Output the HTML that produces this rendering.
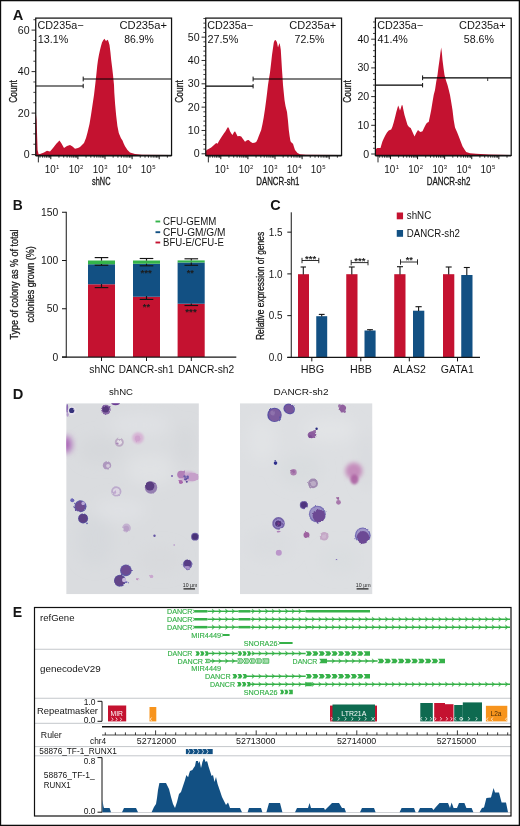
<!DOCTYPE html>
<html lang="en">
<head>
<meta charset="utf-8">
<title>Figure</title>
<style>
html,body{margin:0;padding:0;background:#fff;}
body{width:520px;height:826px;overflow:hidden;}
svg{display:block;font-family:'Liberation Sans', sans-serif;}
</style>
</head>
<body>
<svg width="520" height="826" viewBox="0 0 520 826" font-family='"Liberation Sans", sans-serif' fill="#151515">
<defs>
<filter id="b03" x="-5%" y="-5%" width="110%" height="110%"><feTurbulence type="fractalNoise" baseFrequency="0.22" numOctaves="2" seed="7" result="t"/><feDisplacementMap in="SourceGraphic" in2="t" scale="2.4" xChannelSelector="R" yChannelSelector="G" result="d"/><feGaussianBlur in="d" stdDeviation="0.5"/></filter>
<filter id="b07" x="-5%" y="-5%" width="110%" height="110%"><feTurbulence type="fractalNoise" baseFrequency="0.3" numOctaves="2" seed="11" result="t"/><feDisplacementMap in="SourceGraphic" in2="t" scale="2.6" xChannelSelector="R" yChannelSelector="G" result="d"/><feGaussianBlur in="d" stdDeviation="0.65"/></filter>
<filter id="b2" x="-50%" y="-50%" width="200%" height="200%"><feGaussianBlur stdDeviation="2.2"/></filter>
<filter id="b1" x="-30%" y="-30%" width="160%" height="160%"><feGaussianBlur stdDeviation="1"/></filter>
<filter id="b3" x="-50%" y="-50%" width="200%" height="200%"><feGaussianBlur stdDeviation="3"/></filter>
<filter id="b8" x="-50%" y="-50%" width="200%" height="200%"><feGaussianBlur stdDeviation="7"/></filter>
<clipPath id="clipD1"><rect x="66.2" y="403.2" width="132.7" height="191.1"/></clipPath>
<clipPath id="clipD2"><rect x="239.9" y="403.2" width="132.6" height="191.1"/></clipPath>
</defs>
<rect x="0" y="0" width="520" height="826" fill="#ffffff"/>
<g id="panelA">
<text x="12.80" y="20.00" font-size="14.4" font-weight="bold" textLength="10.60" lengthAdjust="spacingAndGlyphs">A</text>
<polygon points="35.75,155.40 35.75,112.00 36.60,120.00 37.60,150.00 38.60,154.30 40.00,154.00 44.00,152.50 47.00,150.80 50.00,151.50 53.00,148.00 56.50,143.50 59.50,140.50 61.50,143.50 64.00,148.00 67.00,146.00 70.00,145.00 72.50,146.50 75.00,148.70 78.00,148.00 80.00,147.00 84.00,143.00 86.00,138.00 87.50,132.50 89.50,124.00 91.00,115.00 92.50,105.00 94.00,95.00 95.30,84.00 96.30,75.00 97.20,66.00 98.00,60.00 99.00,54.50 100.00,50.00 101.00,46.00 102.00,42.50 103.20,40.20 104.50,38.70 105.40,40.30 106.20,41.20 107.00,39.80 108.00,40.20 108.80,42.50 109.50,45.00 110.40,52.00 111.20,60.00 112.20,68.00 113.00,75.00 114.00,85.00 114.30,92.50 115.10,104.00 116.10,115.00 117.40,126.00 118.80,133.00 119.60,135.00 121.00,138.30 122.50,140.60 123.70,143.50 125.00,146.20 127.50,150.00 130.00,152.50 135.00,154.00 142.00,154.70 171.50,155.00 171.50,155.40" fill="#C41230"/>
<line x1="35.75" y1="86.00" x2="83.20" y2="86.00" stroke="#000" stroke-width="1.2"/>
<line x1="83.20" y1="83.80" x2="83.20" y2="88.20" stroke="#111" stroke-width="1.0"/>
<line x1="83.20" y1="79.00" x2="171.55" y2="79.00" stroke="#000" stroke-width="1.2"/>
<line x1="83.20" y1="76.60" x2="83.20" y2="81.40" stroke="#111" stroke-width="1.0"/>
<rect x="35.75" y="18.10" width="135.80" height="137.30" fill="none" stroke="#111" stroke-width="1.25"/>
<line x1="31.55" y1="154.60" x2="35.75" y2="154.60" stroke="#151515" stroke-width="0.9"/>
<line x1="33.35" y1="144.22" x2="35.75" y2="144.22" stroke="#151515" stroke-width="0.8"/>
<line x1="33.35" y1="133.85" x2="35.75" y2="133.85" stroke="#151515" stroke-width="0.8"/>
<line x1="33.35" y1="123.47" x2="35.75" y2="123.47" stroke="#151515" stroke-width="0.8"/>
<line x1="31.55" y1="113.10" x2="35.75" y2="113.10" stroke="#151515" stroke-width="0.9"/>
<line x1="33.35" y1="102.72" x2="35.75" y2="102.72" stroke="#151515" stroke-width="0.8"/>
<line x1="33.35" y1="92.35" x2="35.75" y2="92.35" stroke="#151515" stroke-width="0.8"/>
<line x1="33.35" y1="81.97" x2="35.75" y2="81.97" stroke="#151515" stroke-width="0.8"/>
<line x1="31.55" y1="71.60" x2="35.75" y2="71.60" stroke="#151515" stroke-width="0.9"/>
<line x1="33.35" y1="61.22" x2="35.75" y2="61.22" stroke="#151515" stroke-width="0.8"/>
<line x1="33.35" y1="50.85" x2="35.75" y2="50.85" stroke="#151515" stroke-width="0.8"/>
<line x1="33.35" y1="40.47" x2="35.75" y2="40.47" stroke="#151515" stroke-width="0.8"/>
<line x1="31.55" y1="30.10" x2="35.75" y2="30.10" stroke="#151515" stroke-width="0.9"/>
<line x1="33.35" y1="19.72" x2="35.75" y2="19.72" stroke="#151515" stroke-width="0.8"/>
<text x="29.55" y="158.10" font-size="10.0" text-anchor="end" textLength="5.90" lengthAdjust="spacingAndGlyphs">0</text>
<text x="29.55" y="116.60" font-size="10.0" text-anchor="end" textLength="11.80" lengthAdjust="spacingAndGlyphs">20</text>
<text x="29.55" y="75.10" font-size="10.0" text-anchor="end" textLength="11.80" lengthAdjust="spacingAndGlyphs">40</text>
<text x="29.55" y="33.60" font-size="10.0" text-anchor="end" textLength="11.80" lengthAdjust="spacingAndGlyphs">60</text>
<line x1="38.35" y1="155.40" x2="38.35" y2="162.40" stroke="#111" stroke-width="0.9"/>
<line x1="35.75" y1="155.70" x2="171.55" y2="155.70" stroke="#111" stroke-width="1.5"/>
<line x1="40.02" y1="155.40" x2="40.02" y2="157.70" stroke="#111" stroke-width="0.85"/>
<line x1="42.64" y1="155.40" x2="42.64" y2="157.70" stroke="#111" stroke-width="0.85"/>
<line x1="44.79" y1="155.40" x2="44.79" y2="157.70" stroke="#111" stroke-width="0.85"/>
<line x1="46.60" y1="155.40" x2="46.60" y2="157.70" stroke="#111" stroke-width="0.85"/>
<line x1="48.17" y1="155.40" x2="48.17" y2="157.70" stroke="#111" stroke-width="0.85"/>
<line x1="49.56" y1="155.40" x2="49.56" y2="157.70" stroke="#111" stroke-width="0.85"/>
<line x1="50.80" y1="155.40" x2="50.80" y2="159.20" stroke="#111" stroke-width="1.0"/>
<line x1="58.96" y1="155.40" x2="58.96" y2="157.70" stroke="#111" stroke-width="0.85"/>
<line x1="63.73" y1="155.40" x2="63.73" y2="157.70" stroke="#111" stroke-width="0.85"/>
<line x1="67.12" y1="155.40" x2="67.12" y2="157.70" stroke="#111" stroke-width="0.85"/>
<line x1="69.74" y1="155.40" x2="69.74" y2="157.70" stroke="#111" stroke-width="0.85"/>
<line x1="71.89" y1="155.40" x2="71.89" y2="157.70" stroke="#111" stroke-width="0.85"/>
<line x1="73.70" y1="155.40" x2="73.70" y2="157.70" stroke="#111" stroke-width="0.85"/>
<line x1="75.27" y1="155.40" x2="75.27" y2="157.70" stroke="#111" stroke-width="0.85"/>
<line x1="76.66" y1="155.40" x2="76.66" y2="157.70" stroke="#111" stroke-width="0.85"/>
<line x1="77.90" y1="155.40" x2="77.90" y2="159.20" stroke="#111" stroke-width="1.0"/>
<line x1="86.06" y1="155.40" x2="86.06" y2="157.70" stroke="#111" stroke-width="0.85"/>
<line x1="90.83" y1="155.40" x2="90.83" y2="157.70" stroke="#111" stroke-width="0.85"/>
<line x1="94.22" y1="155.40" x2="94.22" y2="157.70" stroke="#111" stroke-width="0.85"/>
<line x1="96.84" y1="155.40" x2="96.84" y2="157.70" stroke="#111" stroke-width="0.85"/>
<line x1="98.99" y1="155.40" x2="98.99" y2="157.70" stroke="#111" stroke-width="0.85"/>
<line x1="100.80" y1="155.40" x2="100.80" y2="157.70" stroke="#111" stroke-width="0.85"/>
<line x1="102.37" y1="155.40" x2="102.37" y2="157.70" stroke="#111" stroke-width="0.85"/>
<line x1="103.76" y1="155.40" x2="103.76" y2="157.70" stroke="#111" stroke-width="0.85"/>
<line x1="105.00" y1="155.40" x2="105.00" y2="159.20" stroke="#111" stroke-width="1.0"/>
<line x1="113.16" y1="155.40" x2="113.16" y2="157.70" stroke="#111" stroke-width="0.85"/>
<line x1="117.93" y1="155.40" x2="117.93" y2="157.70" stroke="#111" stroke-width="0.85"/>
<line x1="121.32" y1="155.40" x2="121.32" y2="157.70" stroke="#111" stroke-width="0.85"/>
<line x1="123.94" y1="155.40" x2="123.94" y2="157.70" stroke="#111" stroke-width="0.85"/>
<line x1="126.09" y1="155.40" x2="126.09" y2="157.70" stroke="#111" stroke-width="0.85"/>
<line x1="127.90" y1="155.40" x2="127.90" y2="157.70" stroke="#111" stroke-width="0.85"/>
<line x1="129.47" y1="155.40" x2="129.47" y2="157.70" stroke="#111" stroke-width="0.85"/>
<line x1="130.86" y1="155.40" x2="130.86" y2="157.70" stroke="#111" stroke-width="0.85"/>
<line x1="132.10" y1="155.40" x2="132.10" y2="159.20" stroke="#111" stroke-width="1.0"/>
<line x1="140.26" y1="155.40" x2="140.26" y2="157.70" stroke="#111" stroke-width="0.85"/>
<line x1="145.03" y1="155.40" x2="145.03" y2="157.70" stroke="#111" stroke-width="0.85"/>
<line x1="148.42" y1="155.40" x2="148.42" y2="157.70" stroke="#111" stroke-width="0.85"/>
<line x1="151.04" y1="155.40" x2="151.04" y2="157.70" stroke="#111" stroke-width="0.85"/>
<line x1="153.19" y1="155.40" x2="153.19" y2="157.70" stroke="#111" stroke-width="0.85"/>
<line x1="155.00" y1="155.40" x2="155.00" y2="157.70" stroke="#111" stroke-width="0.85"/>
<line x1="156.57" y1="155.40" x2="156.57" y2="157.70" stroke="#111" stroke-width="0.85"/>
<line x1="157.96" y1="155.40" x2="157.96" y2="157.70" stroke="#111" stroke-width="0.85"/>
<line x1="159.20" y1="155.40" x2="159.20" y2="159.20" stroke="#111" stroke-width="1.0"/>
<line x1="167.36" y1="155.40" x2="167.36" y2="157.70" stroke="#111" stroke-width="0.85"/>
<text x="44.65" y="173.00" font-size="10.0" textLength="11.00" lengthAdjust="spacingAndGlyphs">10</text>
<text x="56.05" y="169.40" font-size="6.0">1</text>
<text x="68.70" y="173.00" font-size="10.0" textLength="11.00" lengthAdjust="spacingAndGlyphs">10</text>
<text x="80.10" y="169.40" font-size="6.0">2</text>
<text x="92.75" y="173.00" font-size="10.0" textLength="11.00" lengthAdjust="spacingAndGlyphs">10</text>
<text x="104.15" y="169.40" font-size="6.0">3</text>
<text x="116.80" y="173.00" font-size="10.0" textLength="11.00" lengthAdjust="spacingAndGlyphs">10</text>
<text x="128.20" y="169.40" font-size="6.0">4</text>
<text x="140.85" y="173.00" font-size="10.0" textLength="11.00" lengthAdjust="spacingAndGlyphs">10</text>
<text x="152.25" y="169.40" font-size="6.0">5</text>
<text x="37.50" y="29.40" font-size="10.3" textLength="46.00" lengthAdjust="spacingAndGlyphs">CD235a−</text>
<text x="37.80" y="43.20" font-size="10.3" textLength="30.60" lengthAdjust="spacingAndGlyphs">13.1%</text>
<text x="119.50" y="29.40" font-size="10.3" textLength="47.50" lengthAdjust="spacingAndGlyphs">CD235a+</text>
<text x="124.25" y="43.20" font-size="10.3" textLength="29.50" lengthAdjust="spacingAndGlyphs">86.9%</text>
<text x="92.00" y="185.40" font-size="11.2" textLength="18.50" lengthAdjust="spacingAndGlyphs" stroke="#1a1a1a" stroke-width="0.3">shNC</text>
<text x="17.30" y="102.80" font-size="10.6" textLength="22.60" lengthAdjust="spacingAndGlyphs" transform="rotate(-90 17.30 102.80)" stroke="#1a1a1a" stroke-width="0.3">Count</text>
<polygon points="205.75,155.40 205.75,152.00 206.50,150.00 208.50,149.00 211.20,147.50 214.00,145.00 216.20,143.00 217.50,143.80 219.00,141.00 221.20,137.50 223.50,134.00 225.50,131.20 227.00,128.50 228.00,127.00 229.00,128.50 230.00,131.20 231.30,133.50 232.50,135.00 233.80,132.50 235.00,131.20 236.20,133.50 237.50,136.20 239.50,136.00 241.20,136.40 243.00,139.00 245.00,141.70 247.00,140.30 248.70,140.00 250.50,141.80 252.50,143.00 254.50,142.80 256.20,142.00 257.50,139.50 258.70,136.20 260.00,133.00 261.20,130.00 262.50,124.00 263.70,117.50 265.00,109.00 266.20,100.00 267.20,92.00 268.00,85.00 269.00,78.50 270.00,72.50 271.00,64.00 272.00,55.00 273.00,48.00 273.80,42.50 274.60,40.60 275.50,40.00 276.30,41.00 277.00,42.50 277.50,45.00 278.00,47.50 278.80,45.00 279.50,43.00 280.20,46.00 280.80,50.00 281.40,60.00 282.00,70.00 282.50,77.00 283.00,85.00 283.80,93.00 284.50,100.00 285.50,106.00 287.00,112.00 288.00,121.00 288.80,130.00 289.60,136.00 290.50,141.20 291.70,142.70 293.00,143.70 294.00,147.00 295.00,150.00 297.50,153.00 300.00,154.30 306.00,154.80 341.00,155.00 341.00,155.40" fill="#C41230"/>
<line x1="205.75" y1="86.20" x2="253.10" y2="86.20" stroke="#000" stroke-width="1.2"/>
<line x1="253.10" y1="84.00" x2="253.10" y2="88.40" stroke="#111" stroke-width="1.0"/>
<line x1="253.10" y1="79.00" x2="341.55" y2="79.00" stroke="#000" stroke-width="1.2"/>
<line x1="253.10" y1="76.60" x2="253.10" y2="81.40" stroke="#111" stroke-width="1.0"/>
<rect x="205.75" y="18.10" width="135.80" height="137.30" fill="none" stroke="#111" stroke-width="1.25"/>
<line x1="201.55" y1="153.80" x2="205.75" y2="153.80" stroke="#151515" stroke-width="0.9"/>
<line x1="203.35" y1="149.13" x2="205.75" y2="149.13" stroke="#151515" stroke-width="0.8"/>
<line x1="203.35" y1="144.47" x2="205.75" y2="144.47" stroke="#151515" stroke-width="0.8"/>
<line x1="203.35" y1="139.80" x2="205.75" y2="139.80" stroke="#151515" stroke-width="0.8"/>
<line x1="203.35" y1="135.14" x2="205.75" y2="135.14" stroke="#151515" stroke-width="0.8"/>
<line x1="201.55" y1="130.47" x2="205.75" y2="130.47" stroke="#151515" stroke-width="0.9"/>
<line x1="203.35" y1="125.80" x2="205.75" y2="125.80" stroke="#151515" stroke-width="0.8"/>
<line x1="203.35" y1="121.14" x2="205.75" y2="121.14" stroke="#151515" stroke-width="0.8"/>
<line x1="203.35" y1="116.47" x2="205.75" y2="116.47" stroke="#151515" stroke-width="0.8"/>
<line x1="203.35" y1="111.81" x2="205.75" y2="111.81" stroke="#151515" stroke-width="0.8"/>
<line x1="201.55" y1="107.14" x2="205.75" y2="107.14" stroke="#151515" stroke-width="0.9"/>
<line x1="203.35" y1="102.47" x2="205.75" y2="102.47" stroke="#151515" stroke-width="0.8"/>
<line x1="203.35" y1="97.81" x2="205.75" y2="97.81" stroke="#151515" stroke-width="0.8"/>
<line x1="203.35" y1="93.14" x2="205.75" y2="93.14" stroke="#151515" stroke-width="0.8"/>
<line x1="203.35" y1="88.48" x2="205.75" y2="88.48" stroke="#151515" stroke-width="0.8"/>
<line x1="201.55" y1="83.81" x2="205.75" y2="83.81" stroke="#151515" stroke-width="0.9"/>
<line x1="203.35" y1="79.14" x2="205.75" y2="79.14" stroke="#151515" stroke-width="0.8"/>
<line x1="203.35" y1="74.48" x2="205.75" y2="74.48" stroke="#151515" stroke-width="0.8"/>
<line x1="203.35" y1="69.81" x2="205.75" y2="69.81" stroke="#151515" stroke-width="0.8"/>
<line x1="203.35" y1="65.15" x2="205.75" y2="65.15" stroke="#151515" stroke-width="0.8"/>
<line x1="201.55" y1="60.48" x2="205.75" y2="60.48" stroke="#151515" stroke-width="0.9"/>
<line x1="203.35" y1="55.81" x2="205.75" y2="55.81" stroke="#151515" stroke-width="0.8"/>
<line x1="203.35" y1="51.15" x2="205.75" y2="51.15" stroke="#151515" stroke-width="0.8"/>
<line x1="203.35" y1="46.48" x2="205.75" y2="46.48" stroke="#151515" stroke-width="0.8"/>
<line x1="203.35" y1="41.82" x2="205.75" y2="41.82" stroke="#151515" stroke-width="0.8"/>
<line x1="201.55" y1="37.15" x2="205.75" y2="37.15" stroke="#151515" stroke-width="0.9"/>
<line x1="203.35" y1="32.48" x2="205.75" y2="32.48" stroke="#151515" stroke-width="0.8"/>
<line x1="203.35" y1="27.82" x2="205.75" y2="27.82" stroke="#151515" stroke-width="0.8"/>
<line x1="203.35" y1="23.15" x2="205.75" y2="23.15" stroke="#151515" stroke-width="0.8"/>
<line x1="203.35" y1="18.49" x2="205.75" y2="18.49" stroke="#151515" stroke-width="0.8"/>
<text x="199.55" y="157.30" font-size="10.0" text-anchor="end" textLength="5.90" lengthAdjust="spacingAndGlyphs">0</text>
<text x="199.55" y="133.97" font-size="10.0" text-anchor="end" textLength="11.80" lengthAdjust="spacingAndGlyphs">10</text>
<text x="199.55" y="110.64" font-size="10.0" text-anchor="end" textLength="11.80" lengthAdjust="spacingAndGlyphs">20</text>
<text x="199.55" y="87.31" font-size="10.0" text-anchor="end" textLength="11.80" lengthAdjust="spacingAndGlyphs">30</text>
<text x="199.55" y="63.98" font-size="10.0" text-anchor="end" textLength="11.80" lengthAdjust="spacingAndGlyphs">40</text>
<text x="199.55" y="40.65" font-size="10.0" text-anchor="end" textLength="11.80" lengthAdjust="spacingAndGlyphs">50</text>
<line x1="208.35" y1="155.40" x2="208.35" y2="162.40" stroke="#111" stroke-width="0.9"/>
<line x1="205.75" y1="155.70" x2="341.55" y2="155.70" stroke="#111" stroke-width="1.5"/>
<line x1="210.02" y1="155.40" x2="210.02" y2="157.70" stroke="#111" stroke-width="0.85"/>
<line x1="212.64" y1="155.40" x2="212.64" y2="157.70" stroke="#111" stroke-width="0.85"/>
<line x1="214.79" y1="155.40" x2="214.79" y2="157.70" stroke="#111" stroke-width="0.85"/>
<line x1="216.60" y1="155.40" x2="216.60" y2="157.70" stroke="#111" stroke-width="0.85"/>
<line x1="218.17" y1="155.40" x2="218.17" y2="157.70" stroke="#111" stroke-width="0.85"/>
<line x1="219.56" y1="155.40" x2="219.56" y2="157.70" stroke="#111" stroke-width="0.85"/>
<line x1="220.80" y1="155.40" x2="220.80" y2="159.20" stroke="#111" stroke-width="1.0"/>
<line x1="228.96" y1="155.40" x2="228.96" y2="157.70" stroke="#111" stroke-width="0.85"/>
<line x1="233.73" y1="155.40" x2="233.73" y2="157.70" stroke="#111" stroke-width="0.85"/>
<line x1="237.12" y1="155.40" x2="237.12" y2="157.70" stroke="#111" stroke-width="0.85"/>
<line x1="239.74" y1="155.40" x2="239.74" y2="157.70" stroke="#111" stroke-width="0.85"/>
<line x1="241.89" y1="155.40" x2="241.89" y2="157.70" stroke="#111" stroke-width="0.85"/>
<line x1="243.70" y1="155.40" x2="243.70" y2="157.70" stroke="#111" stroke-width="0.85"/>
<line x1="245.27" y1="155.40" x2="245.27" y2="157.70" stroke="#111" stroke-width="0.85"/>
<line x1="246.66" y1="155.40" x2="246.66" y2="157.70" stroke="#111" stroke-width="0.85"/>
<line x1="247.90" y1="155.40" x2="247.90" y2="159.20" stroke="#111" stroke-width="1.0"/>
<line x1="256.06" y1="155.40" x2="256.06" y2="157.70" stroke="#111" stroke-width="0.85"/>
<line x1="260.83" y1="155.40" x2="260.83" y2="157.70" stroke="#111" stroke-width="0.85"/>
<line x1="264.22" y1="155.40" x2="264.22" y2="157.70" stroke="#111" stroke-width="0.85"/>
<line x1="266.84" y1="155.40" x2="266.84" y2="157.70" stroke="#111" stroke-width="0.85"/>
<line x1="268.99" y1="155.40" x2="268.99" y2="157.70" stroke="#111" stroke-width="0.85"/>
<line x1="270.80" y1="155.40" x2="270.80" y2="157.70" stroke="#111" stroke-width="0.85"/>
<line x1="272.37" y1="155.40" x2="272.37" y2="157.70" stroke="#111" stroke-width="0.85"/>
<line x1="273.76" y1="155.40" x2="273.76" y2="157.70" stroke="#111" stroke-width="0.85"/>
<line x1="275.00" y1="155.40" x2="275.00" y2="159.20" stroke="#111" stroke-width="1.0"/>
<line x1="283.16" y1="155.40" x2="283.16" y2="157.70" stroke="#111" stroke-width="0.85"/>
<line x1="287.93" y1="155.40" x2="287.93" y2="157.70" stroke="#111" stroke-width="0.85"/>
<line x1="291.32" y1="155.40" x2="291.32" y2="157.70" stroke="#111" stroke-width="0.85"/>
<line x1="293.94" y1="155.40" x2="293.94" y2="157.70" stroke="#111" stroke-width="0.85"/>
<line x1="296.09" y1="155.40" x2="296.09" y2="157.70" stroke="#111" stroke-width="0.85"/>
<line x1="297.90" y1="155.40" x2="297.90" y2="157.70" stroke="#111" stroke-width="0.85"/>
<line x1="299.47" y1="155.40" x2="299.47" y2="157.70" stroke="#111" stroke-width="0.85"/>
<line x1="300.86" y1="155.40" x2="300.86" y2="157.70" stroke="#111" stroke-width="0.85"/>
<line x1="302.10" y1="155.40" x2="302.10" y2="159.20" stroke="#111" stroke-width="1.0"/>
<line x1="310.26" y1="155.40" x2="310.26" y2="157.70" stroke="#111" stroke-width="0.85"/>
<line x1="315.03" y1="155.40" x2="315.03" y2="157.70" stroke="#111" stroke-width="0.85"/>
<line x1="318.42" y1="155.40" x2="318.42" y2="157.70" stroke="#111" stroke-width="0.85"/>
<line x1="321.04" y1="155.40" x2="321.04" y2="157.70" stroke="#111" stroke-width="0.85"/>
<line x1="323.19" y1="155.40" x2="323.19" y2="157.70" stroke="#111" stroke-width="0.85"/>
<line x1="325.00" y1="155.40" x2="325.00" y2="157.70" stroke="#111" stroke-width="0.85"/>
<line x1="326.57" y1="155.40" x2="326.57" y2="157.70" stroke="#111" stroke-width="0.85"/>
<line x1="327.96" y1="155.40" x2="327.96" y2="157.70" stroke="#111" stroke-width="0.85"/>
<line x1="329.20" y1="155.40" x2="329.20" y2="159.20" stroke="#111" stroke-width="1.0"/>
<line x1="337.36" y1="155.40" x2="337.36" y2="157.70" stroke="#111" stroke-width="0.85"/>
<text x="214.65" y="173.00" font-size="10.0" textLength="11.00" lengthAdjust="spacingAndGlyphs">10</text>
<text x="226.05" y="169.40" font-size="6.0">1</text>
<text x="238.70" y="173.00" font-size="10.0" textLength="11.00" lengthAdjust="spacingAndGlyphs">10</text>
<text x="250.10" y="169.40" font-size="6.0">2</text>
<text x="262.75" y="173.00" font-size="10.0" textLength="11.00" lengthAdjust="spacingAndGlyphs">10</text>
<text x="274.15" y="169.40" font-size="6.0">3</text>
<text x="286.80" y="173.00" font-size="10.0" textLength="11.00" lengthAdjust="spacingAndGlyphs">10</text>
<text x="298.20" y="169.40" font-size="6.0">4</text>
<text x="310.85" y="173.00" font-size="10.0" textLength="11.00" lengthAdjust="spacingAndGlyphs">10</text>
<text x="322.25" y="169.40" font-size="6.0">5</text>
<text x="207.20" y="29.40" font-size="10.3" textLength="46.00" lengthAdjust="spacingAndGlyphs">CD235a−</text>
<text x="207.50" y="43.20" font-size="10.3" textLength="30.80" lengthAdjust="spacingAndGlyphs">27.5%</text>
<text x="289.25" y="29.40" font-size="10.3" textLength="47.00" lengthAdjust="spacingAndGlyphs">CD235a+</text>
<text x="294.50" y="43.20" font-size="10.3" textLength="30.00" lengthAdjust="spacingAndGlyphs">72.5%</text>
<text x="256.25" y="185.40" font-size="11.2" textLength="43.25" lengthAdjust="spacingAndGlyphs" stroke="#1a1a1a" stroke-width="0.3">DANCR-sh1</text>
<text x="183.10" y="102.80" font-size="10.6" textLength="22.60" lengthAdjust="spacingAndGlyphs" transform="rotate(-90 183.10 102.80)" stroke="#1a1a1a" stroke-width="0.3">Count</text>
<polygon points="375.40,155.40 375.40,150.00 377.00,148.00 380.50,148.00 381.50,144.50 382.50,141.20 384.00,138.00 385.50,135.00 387.00,132.50 388.70,130.50 391.20,129.50 392.50,126.50 393.70,122.50 395.00,117.50 396.20,112.50 397.30,108.50 398.20,105.50 399.00,107.50 400.00,110.50 400.90,108.00 401.70,105.30 402.50,105.30 403.20,109.00 404.50,115.00 406.00,120.00 407.50,125.00 409.00,127.00 410.70,128.00 412.50,132.00 414.50,136.50 416.20,133.00 418.00,130.00 419.30,131.30 420.50,132.00 422.50,131.20 424.50,127.00 426.20,123.70 427.50,122.50 428.70,122.00 430.00,116.00 431.20,110.00 432.50,102.00 433.70,95.00 435.00,90.00 436.20,82.00 437.50,75.00 438.50,67.00 439.50,60.00 440.40,53.00 441.20,47.50 441.90,53.00 442.50,60.00 443.50,68.00 444.50,75.00 446.00,80.50 447.50,85.00 448.80,90.00 450.00,95.00 451.20,102.00 452.50,110.00 453.70,120.00 455.00,127.50 457.00,132.00 458.70,136.20 460.50,141.00 462.50,146.20 464.50,149.50 466.20,152.00 470.00,153.30 476.00,153.80 489.00,154.60 511.00,155.00 511.00,155.40" fill="#C41230"/>
<line x1="375.40" y1="85.20" x2="422.60" y2="85.20" stroke="#000" stroke-width="1.2"/>
<line x1="422.60" y1="83.00" x2="422.60" y2="87.40" stroke="#111" stroke-width="1.0"/>
<line x1="422.60" y1="77.80" x2="511.20" y2="77.80" stroke="#000" stroke-width="1.2"/>
<line x1="422.60" y1="75.40" x2="422.60" y2="80.20" stroke="#111" stroke-width="1.0"/>
<line x1="487.70" y1="77.80" x2="487.70" y2="81.00" stroke="#222" stroke-width="0.9"/>
<rect x="375.40" y="18.10" width="135.80" height="137.30" fill="none" stroke="#111" stroke-width="1.25"/>
<line x1="371.20" y1="154.00" x2="375.40" y2="154.00" stroke="#151515" stroke-width="0.9"/>
<line x1="373.00" y1="148.26" x2="375.40" y2="148.26" stroke="#151515" stroke-width="0.8"/>
<line x1="373.00" y1="142.52" x2="375.40" y2="142.52" stroke="#151515" stroke-width="0.8"/>
<line x1="373.00" y1="136.78" x2="375.40" y2="136.78" stroke="#151515" stroke-width="0.8"/>
<line x1="373.00" y1="131.04" x2="375.40" y2="131.04" stroke="#151515" stroke-width="0.8"/>
<line x1="371.20" y1="125.30" x2="375.40" y2="125.30" stroke="#151515" stroke-width="0.9"/>
<line x1="373.00" y1="119.56" x2="375.40" y2="119.56" stroke="#151515" stroke-width="0.8"/>
<line x1="373.00" y1="113.82" x2="375.40" y2="113.82" stroke="#151515" stroke-width="0.8"/>
<line x1="373.00" y1="108.08" x2="375.40" y2="108.08" stroke="#151515" stroke-width="0.8"/>
<line x1="373.00" y1="102.34" x2="375.40" y2="102.34" stroke="#151515" stroke-width="0.8"/>
<line x1="371.20" y1="96.60" x2="375.40" y2="96.60" stroke="#151515" stroke-width="0.9"/>
<line x1="373.00" y1="90.86" x2="375.40" y2="90.86" stroke="#151515" stroke-width="0.8"/>
<line x1="373.00" y1="85.12" x2="375.40" y2="85.12" stroke="#151515" stroke-width="0.8"/>
<line x1="373.00" y1="79.38" x2="375.40" y2="79.38" stroke="#151515" stroke-width="0.8"/>
<line x1="373.00" y1="73.64" x2="375.40" y2="73.64" stroke="#151515" stroke-width="0.8"/>
<line x1="371.20" y1="67.90" x2="375.40" y2="67.90" stroke="#151515" stroke-width="0.9"/>
<line x1="373.00" y1="62.16" x2="375.40" y2="62.16" stroke="#151515" stroke-width="0.8"/>
<line x1="373.00" y1="56.42" x2="375.40" y2="56.42" stroke="#151515" stroke-width="0.8"/>
<line x1="373.00" y1="50.68" x2="375.40" y2="50.68" stroke="#151515" stroke-width="0.8"/>
<line x1="373.00" y1="44.94" x2="375.40" y2="44.94" stroke="#151515" stroke-width="0.8"/>
<line x1="371.20" y1="39.20" x2="375.40" y2="39.20" stroke="#151515" stroke-width="0.9"/>
<line x1="373.00" y1="33.46" x2="375.40" y2="33.46" stroke="#151515" stroke-width="0.8"/>
<line x1="373.00" y1="27.72" x2="375.40" y2="27.72" stroke="#151515" stroke-width="0.8"/>
<line x1="373.00" y1="21.98" x2="375.40" y2="21.98" stroke="#151515" stroke-width="0.8"/>
<text x="369.20" y="157.50" font-size="10.0" text-anchor="end" textLength="5.90" lengthAdjust="spacingAndGlyphs">0</text>
<text x="369.20" y="128.80" font-size="10.0" text-anchor="end" textLength="11.80" lengthAdjust="spacingAndGlyphs">10</text>
<text x="369.20" y="100.10" font-size="10.0" text-anchor="end" textLength="11.80" lengthAdjust="spacingAndGlyphs">20</text>
<text x="369.20" y="71.40" font-size="10.0" text-anchor="end" textLength="11.80" lengthAdjust="spacingAndGlyphs">30</text>
<text x="369.20" y="42.70" font-size="10.0" text-anchor="end" textLength="11.80" lengthAdjust="spacingAndGlyphs">40</text>
<line x1="378.00" y1="155.40" x2="378.00" y2="162.40" stroke="#111" stroke-width="0.9"/>
<line x1="375.40" y1="155.70" x2="511.20" y2="155.70" stroke="#111" stroke-width="1.5"/>
<line x1="379.67" y1="155.40" x2="379.67" y2="157.70" stroke="#111" stroke-width="0.85"/>
<line x1="382.29" y1="155.40" x2="382.29" y2="157.70" stroke="#111" stroke-width="0.85"/>
<line x1="384.44" y1="155.40" x2="384.44" y2="157.70" stroke="#111" stroke-width="0.85"/>
<line x1="386.25" y1="155.40" x2="386.25" y2="157.70" stroke="#111" stroke-width="0.85"/>
<line x1="387.82" y1="155.40" x2="387.82" y2="157.70" stroke="#111" stroke-width="0.85"/>
<line x1="389.21" y1="155.40" x2="389.21" y2="157.70" stroke="#111" stroke-width="0.85"/>
<line x1="390.45" y1="155.40" x2="390.45" y2="159.20" stroke="#111" stroke-width="1.0"/>
<line x1="398.61" y1="155.40" x2="398.61" y2="157.70" stroke="#111" stroke-width="0.85"/>
<line x1="403.38" y1="155.40" x2="403.38" y2="157.70" stroke="#111" stroke-width="0.85"/>
<line x1="406.77" y1="155.40" x2="406.77" y2="157.70" stroke="#111" stroke-width="0.85"/>
<line x1="409.39" y1="155.40" x2="409.39" y2="157.70" stroke="#111" stroke-width="0.85"/>
<line x1="411.54" y1="155.40" x2="411.54" y2="157.70" stroke="#111" stroke-width="0.85"/>
<line x1="413.35" y1="155.40" x2="413.35" y2="157.70" stroke="#111" stroke-width="0.85"/>
<line x1="414.92" y1="155.40" x2="414.92" y2="157.70" stroke="#111" stroke-width="0.85"/>
<line x1="416.31" y1="155.40" x2="416.31" y2="157.70" stroke="#111" stroke-width="0.85"/>
<line x1="417.55" y1="155.40" x2="417.55" y2="159.20" stroke="#111" stroke-width="1.0"/>
<line x1="425.71" y1="155.40" x2="425.71" y2="157.70" stroke="#111" stroke-width="0.85"/>
<line x1="430.48" y1="155.40" x2="430.48" y2="157.70" stroke="#111" stroke-width="0.85"/>
<line x1="433.87" y1="155.40" x2="433.87" y2="157.70" stroke="#111" stroke-width="0.85"/>
<line x1="436.49" y1="155.40" x2="436.49" y2="157.70" stroke="#111" stroke-width="0.85"/>
<line x1="438.64" y1="155.40" x2="438.64" y2="157.70" stroke="#111" stroke-width="0.85"/>
<line x1="440.45" y1="155.40" x2="440.45" y2="157.70" stroke="#111" stroke-width="0.85"/>
<line x1="442.02" y1="155.40" x2="442.02" y2="157.70" stroke="#111" stroke-width="0.85"/>
<line x1="443.41" y1="155.40" x2="443.41" y2="157.70" stroke="#111" stroke-width="0.85"/>
<line x1="444.65" y1="155.40" x2="444.65" y2="159.20" stroke="#111" stroke-width="1.0"/>
<line x1="452.81" y1="155.40" x2="452.81" y2="157.70" stroke="#111" stroke-width="0.85"/>
<line x1="457.58" y1="155.40" x2="457.58" y2="157.70" stroke="#111" stroke-width="0.85"/>
<line x1="460.97" y1="155.40" x2="460.97" y2="157.70" stroke="#111" stroke-width="0.85"/>
<line x1="463.59" y1="155.40" x2="463.59" y2="157.70" stroke="#111" stroke-width="0.85"/>
<line x1="465.74" y1="155.40" x2="465.74" y2="157.70" stroke="#111" stroke-width="0.85"/>
<line x1="467.55" y1="155.40" x2="467.55" y2="157.70" stroke="#111" stroke-width="0.85"/>
<line x1="469.12" y1="155.40" x2="469.12" y2="157.70" stroke="#111" stroke-width="0.85"/>
<line x1="470.51" y1="155.40" x2="470.51" y2="157.70" stroke="#111" stroke-width="0.85"/>
<line x1="471.75" y1="155.40" x2="471.75" y2="159.20" stroke="#111" stroke-width="1.0"/>
<line x1="479.91" y1="155.40" x2="479.91" y2="157.70" stroke="#111" stroke-width="0.85"/>
<line x1="484.68" y1="155.40" x2="484.68" y2="157.70" stroke="#111" stroke-width="0.85"/>
<line x1="488.07" y1="155.40" x2="488.07" y2="157.70" stroke="#111" stroke-width="0.85"/>
<line x1="490.69" y1="155.40" x2="490.69" y2="157.70" stroke="#111" stroke-width="0.85"/>
<line x1="492.84" y1="155.40" x2="492.84" y2="157.70" stroke="#111" stroke-width="0.85"/>
<line x1="494.65" y1="155.40" x2="494.65" y2="157.70" stroke="#111" stroke-width="0.85"/>
<line x1="496.22" y1="155.40" x2="496.22" y2="157.70" stroke="#111" stroke-width="0.85"/>
<line x1="497.61" y1="155.40" x2="497.61" y2="157.70" stroke="#111" stroke-width="0.85"/>
<line x1="498.85" y1="155.40" x2="498.85" y2="159.20" stroke="#111" stroke-width="1.0"/>
<line x1="507.01" y1="155.40" x2="507.01" y2="157.70" stroke="#111" stroke-width="0.85"/>
<text x="384.30" y="173.00" font-size="10.0" textLength="11.00" lengthAdjust="spacingAndGlyphs">10</text>
<text x="395.70" y="169.40" font-size="6.0">1</text>
<text x="408.35" y="173.00" font-size="10.0" textLength="11.00" lengthAdjust="spacingAndGlyphs">10</text>
<text x="419.75" y="169.40" font-size="6.0">2</text>
<text x="432.40" y="173.00" font-size="10.0" textLength="11.00" lengthAdjust="spacingAndGlyphs">10</text>
<text x="443.80" y="169.40" font-size="6.0">3</text>
<text x="456.45" y="173.00" font-size="10.0" textLength="11.00" lengthAdjust="spacingAndGlyphs">10</text>
<text x="467.85" y="169.40" font-size="6.0">4</text>
<text x="480.50" y="173.00" font-size="10.0" textLength="11.00" lengthAdjust="spacingAndGlyphs">10</text>
<text x="491.90" y="169.40" font-size="6.0">5</text>
<text x="377.20" y="29.40" font-size="10.3" textLength="46.00" lengthAdjust="spacingAndGlyphs">CD235a−</text>
<text x="377.50" y="43.20" font-size="10.3" textLength="30.40" lengthAdjust="spacingAndGlyphs">41.4%</text>
<text x="459.00" y="29.40" font-size="10.3" textLength="46.60" lengthAdjust="spacingAndGlyphs">CD235a+</text>
<text x="463.80" y="43.20" font-size="10.3" textLength="30.20" lengthAdjust="spacingAndGlyphs">58.6%</text>
<text x="426.70" y="185.40" font-size="11.2" textLength="43.70" lengthAdjust="spacingAndGlyphs" stroke="#1a1a1a" stroke-width="0.3">DANCR-sh2</text>
<text x="351.00" y="102.80" font-size="10.6" textLength="22.60" lengthAdjust="spacingAndGlyphs" transform="rotate(-90 351.00 102.80)" stroke="#1a1a1a" stroke-width="0.3">Count</text>
</g>
<g id="panelB">
<text x="12.80" y="210.10" font-size="14.2" font-weight="bold" textLength="10.00" lengthAdjust="spacingAndGlyphs">B</text>
<text x="17.60" y="339.60" font-size="10.6" textLength="110.00" lengthAdjust="spacingAndGlyphs" transform="rotate(-90 17.60 339.60)" stroke="#1a1a1a" stroke-width="0.3">Type of colony as % of total</text>
<text x="33.60" y="322.60" font-size="10.6" textLength="76.30" lengthAdjust="spacingAndGlyphs" transform="rotate(-90 33.60 322.60)" stroke="#1a1a1a" stroke-width="0.3">colonies grown (%)</text>
<rect x="88.00" y="284.25" width="27.00" height="72.75" fill="#C41230"/>
<rect x="88.00" y="264.25" width="27.00" height="20.00" fill="#125083"/>
<rect x="88.00" y="260.50" width="27.00" height="3.75" fill="#34B44A"/>
<rect x="133.00" y="296.75" width="27.00" height="60.25" fill="#C41230"/>
<rect x="133.00" y="263.75" width="27.00" height="33.00" fill="#125083"/>
<rect x="133.00" y="260.50" width="27.00" height="3.25" fill="#34B44A"/>
<rect x="177.60" y="303.75" width="27.10" height="53.25" fill="#C41230"/>
<rect x="177.60" y="262.50" width="27.10" height="41.25" fill="#125083"/>
<rect x="177.60" y="260.40" width="27.10" height="2.10" fill="#34B44A"/>
<line x1="101.50" y1="257.60" x2="101.50" y2="260.60" stroke="#151515" stroke-width="1.15"/>
<line x1="94.70" y1="257.60" x2="108.30" y2="257.60" stroke="#151515" stroke-width="1.15"/>
<line x1="146.50" y1="258.50" x2="146.50" y2="260.60" stroke="#151515" stroke-width="1.15"/>
<line x1="139.70" y1="258.50" x2="153.30" y2="258.50" stroke="#151515" stroke-width="1.15"/>
<line x1="191.30" y1="258.80" x2="191.30" y2="260.50" stroke="#151515" stroke-width="1.15"/>
<line x1="184.50" y1="258.80" x2="198.10" y2="258.80" stroke="#151515" stroke-width="1.15"/>
<line x1="101.50" y1="264.00" x2="101.50" y2="265.30" stroke="#151515" stroke-width="1.15"/>
<line x1="94.70" y1="265.30" x2="108.30" y2="265.30" stroke="#151515" stroke-width="1.15"/>
<line x1="146.50" y1="263.60" x2="146.50" y2="265.80" stroke="#151515" stroke-width="1.15"/>
<line x1="139.70" y1="265.80" x2="153.30" y2="265.80" stroke="#151515" stroke-width="1.15"/>
<line x1="191.30" y1="262.40" x2="191.30" y2="265.30" stroke="#151515" stroke-width="1.15"/>
<line x1="184.50" y1="265.30" x2="198.10" y2="265.30" stroke="#151515" stroke-width="1.15"/>
<line x1="101.50" y1="284.00" x2="101.50" y2="287.60" stroke="#151515" stroke-width="1.15"/>
<line x1="94.70" y1="287.60" x2="108.30" y2="287.60" stroke="#151515" stroke-width="1.15"/>
<line x1="146.50" y1="296.00" x2="146.50" y2="299.40" stroke="#151515" stroke-width="1.15"/>
<line x1="139.70" y1="299.40" x2="153.30" y2="299.40" stroke="#151515" stroke-width="1.15"/>
<line x1="191.30" y1="303.40" x2="191.30" y2="305.50" stroke="#151515" stroke-width="1.15"/>
<line x1="184.50" y1="305.50" x2="198.10" y2="305.50" stroke="#151515" stroke-width="1.15"/>
<text x="140.50" y="275.60" font-size="8.5" font-weight="bold" fill="#1c1c1c" textLength="11.40" lengthAdjust="spacingAndGlyphs">***</text>
<text x="186.70" y="275.60" font-size="8.5" font-weight="bold" fill="#1c1c1c" textLength="7.20" lengthAdjust="spacingAndGlyphs">**</text>
<text x="142.80" y="309.90" font-size="8.5" font-weight="bold" fill="#1c1c1c" textLength="7.20" lengthAdjust="spacingAndGlyphs">**</text>
<text x="185.30" y="315.30" font-size="8.5" font-weight="bold" fill="#1c1c1c" textLength="11.40" lengthAdjust="spacingAndGlyphs">***</text>
<line x1="66.25" y1="211.80" x2="66.25" y2="357.50" stroke="#151515" stroke-width="1.0"/>
<line x1="62.00" y1="357.10" x2="236.30" y2="357.10" stroke="#151515" stroke-width="1.2"/>
<line x1="62.00" y1="357.00" x2="66.25" y2="357.00" stroke="#151515" stroke-width="1.0"/>
<text x="58.20" y="360.70" font-size="10.6" text-anchor="end" textLength="5.75" lengthAdjust="spacingAndGlyphs">0</text>
<line x1="62.00" y1="308.75" x2="66.25" y2="308.75" stroke="#151515" stroke-width="1.0"/>
<text x="58.20" y="312.45" font-size="10.6" text-anchor="end" textLength="11.50" lengthAdjust="spacingAndGlyphs">50</text>
<line x1="62.00" y1="260.50" x2="66.25" y2="260.50" stroke="#151515" stroke-width="1.0"/>
<text x="58.20" y="264.20" font-size="10.6" text-anchor="end" textLength="17.25" lengthAdjust="spacingAndGlyphs">100</text>
<line x1="62.00" y1="212.25" x2="66.25" y2="212.25" stroke="#151515" stroke-width="1.0"/>
<text x="58.20" y="215.95" font-size="10.6" text-anchor="end" textLength="17.25" lengthAdjust="spacingAndGlyphs">150</text>
<line x1="101.50" y1="357.00" x2="101.50" y2="361.00" stroke="#151515" stroke-width="1.0"/>
<line x1="146.50" y1="357.00" x2="146.50" y2="361.00" stroke="#151515" stroke-width="1.0"/>
<line x1="191.30" y1="357.00" x2="191.30" y2="361.00" stroke="#151515" stroke-width="1.0"/>
<text x="89.25" y="373.00" font-size="10.6" textLength="25.80" lengthAdjust="spacingAndGlyphs">shNC</text>
<text x="118.75" y="373.00" font-size="10.6" textLength="55.00" lengthAdjust="spacingAndGlyphs">DANCR-sh1</text>
<text x="178.00" y="373.00" font-size="10.6" textLength="56.20" lengthAdjust="spacingAndGlyphs">DANCR-sh2</text>
<line x1="155.50" y1="221.50" x2="160.20" y2="221.50" stroke="#34B44A" stroke-width="1.9"/>
<text x="163.00" y="224.80" font-size="10.1" textLength="53.30" lengthAdjust="spacingAndGlyphs">CFU-GEMM</text>
<line x1="155.50" y1="232.20" x2="160.20" y2="232.20" stroke="#125083" stroke-width="1.9"/>
<text x="163.00" y="235.50" font-size="10.1" textLength="62.50" lengthAdjust="spacingAndGlyphs">CFU-GM/G/M</text>
<line x1="155.50" y1="242.50" x2="160.20" y2="242.50" stroke="#C41230" stroke-width="1.9"/>
<text x="163.00" y="245.80" font-size="10.1" textLength="60.80" lengthAdjust="spacingAndGlyphs">BFU-E/CFU-E</text>
</g>
<g id="panelC">
<text x="270.30" y="210.40" font-size="14.2" font-weight="bold" textLength="10.40" lengthAdjust="spacingAndGlyphs">C</text>
<text x="263.80" y="340.00" font-size="10.6" textLength="108.20" lengthAdjust="spacingAndGlyphs" transform="rotate(-90 263.80 340.00)" stroke="#1a1a1a" stroke-width="0.3">Relative expression of genes</text>
<rect x="298.00" y="274.20" width="11.00" height="83.20" fill="#C41230"/>
<rect x="316.25" y="316.20" width="10.95" height="41.20" fill="#125083"/>
<rect x="346.25" y="274.20" width="11.25" height="83.20" fill="#C41230"/>
<rect x="364.50" y="330.50" width="11.10" height="26.90" fill="#125083"/>
<rect x="394.25" y="274.20" width="11.25" height="83.20" fill="#C41230"/>
<rect x="413.00" y="310.70" width="11.30" height="46.70" fill="#125083"/>
<rect x="443.00" y="274.20" width="11.30" height="83.20" fill="#C41230"/>
<rect x="461.25" y="275.00" width="11.25" height="82.40" fill="#125083"/>
<line x1="303.30" y1="267.00" x2="303.30" y2="274.50" stroke="#151515" stroke-width="1.1"/>
<line x1="300.60" y1="267.00" x2="306.00" y2="267.00" stroke="#151515" stroke-width="1.1"/>
<line x1="321.70" y1="314.40" x2="321.70" y2="316.50" stroke="#151515" stroke-width="1.1"/>
<line x1="318.80" y1="314.40" x2="324.60" y2="314.40" stroke="#151515" stroke-width="1.1"/>
<line x1="351.80" y1="267.00" x2="351.80" y2="274.50" stroke="#151515" stroke-width="1.1"/>
<line x1="348.90" y1="267.00" x2="354.70" y2="267.00" stroke="#151515" stroke-width="1.1"/>
<line x1="370.00" y1="329.70" x2="370.00" y2="330.80" stroke="#151515" stroke-width="1.1"/>
<line x1="367.10" y1="329.70" x2="372.90" y2="329.70" stroke="#151515" stroke-width="1.1"/>
<line x1="400.00" y1="266.70" x2="400.00" y2="274.50" stroke="#151515" stroke-width="1.1"/>
<line x1="397.00" y1="266.70" x2="403.00" y2="266.70" stroke="#151515" stroke-width="1.1"/>
<line x1="418.60" y1="306.70" x2="418.60" y2="311.00" stroke="#151515" stroke-width="1.1"/>
<line x1="415.50" y1="306.70" x2="421.70" y2="306.70" stroke="#151515" stroke-width="1.1"/>
<line x1="448.70" y1="267.00" x2="448.70" y2="274.50" stroke="#151515" stroke-width="1.1"/>
<line x1="445.70" y1="267.00" x2="451.70" y2="267.00" stroke="#151515" stroke-width="1.1"/>
<line x1="466.80" y1="267.50" x2="466.80" y2="275.30" stroke="#151515" stroke-width="1.1"/>
<line x1="463.80" y1="267.50" x2="469.80" y2="267.50" stroke="#151515" stroke-width="1.1"/>
<line x1="302.00" y1="260.50" x2="318.80" y2="260.50" stroke="#151515" stroke-width="0.9"/>
<line x1="302.00" y1="257.80" x2="302.00" y2="263.20" stroke="#151515" stroke-width="0.9"/>
<line x1="318.80" y1="257.80" x2="318.80" y2="263.20" stroke="#151515" stroke-width="0.9"/>
<text x="305.10" y="261.80" font-size="8.5" font-weight="bold" fill="#1c1c1c" textLength="11.20" lengthAdjust="spacingAndGlyphs">***</text>
<line x1="351.20" y1="262.60" x2="368.00" y2="262.60" stroke="#151515" stroke-width="0.9"/>
<line x1="351.20" y1="259.90" x2="351.20" y2="265.30" stroke="#151515" stroke-width="0.9"/>
<line x1="368.00" y1="259.90" x2="368.00" y2="265.30" stroke="#151515" stroke-width="0.9"/>
<text x="354.30" y="264.00" font-size="8.5" font-weight="bold" fill="#1c1c1c" textLength="11.20" lengthAdjust="spacingAndGlyphs">***</text>
<line x1="400.50" y1="262.00" x2="417.50" y2="262.00" stroke="#151515" stroke-width="0.9"/>
<line x1="400.50" y1="259.30" x2="400.50" y2="264.70" stroke="#151515" stroke-width="0.9"/>
<line x1="417.50" y1="259.30" x2="417.50" y2="264.70" stroke="#151515" stroke-width="0.9"/>
<text x="405.70" y="263.30" font-size="8.5" font-weight="bold" fill="#1c1c1c" textLength="7.20" lengthAdjust="spacingAndGlyphs">**</text>
<line x1="291.25" y1="212.30" x2="291.25" y2="357.90" stroke="#151515" stroke-width="1.0"/>
<line x1="287.30" y1="357.40" x2="480.00" y2="357.40" stroke="#151515" stroke-width="1.2"/>
<line x1="287.30" y1="357.40" x2="291.25" y2="357.40" stroke="#151515" stroke-width="1.0"/>
<text x="282.60" y="361.10" font-size="10.0" text-anchor="end" textLength="13.80" lengthAdjust="spacingAndGlyphs">0.0</text>
<line x1="287.30" y1="315.65" x2="291.25" y2="315.65" stroke="#151515" stroke-width="1.0"/>
<text x="282.60" y="319.35" font-size="10.0" text-anchor="end" textLength="13.80" lengthAdjust="spacingAndGlyphs">0.5</text>
<line x1="287.30" y1="273.90" x2="291.25" y2="273.90" stroke="#151515" stroke-width="1.0"/>
<text x="282.60" y="277.60" font-size="10.0" text-anchor="end" textLength="13.80" lengthAdjust="spacingAndGlyphs">1.0</text>
<line x1="287.30" y1="232.15" x2="291.25" y2="232.15" stroke="#151515" stroke-width="1.0"/>
<text x="282.60" y="235.85" font-size="10.0" text-anchor="end" textLength="13.80" lengthAdjust="spacingAndGlyphs">1.5</text>
<line x1="311.80" y1="357.40" x2="311.80" y2="361.40" stroke="#151515" stroke-width="1.0"/>
<line x1="360.80" y1="357.40" x2="360.80" y2="361.40" stroke="#151515" stroke-width="1.0"/>
<line x1="409.30" y1="357.40" x2="409.30" y2="361.40" stroke="#151515" stroke-width="1.0"/>
<line x1="457.50" y1="357.40" x2="457.50" y2="361.40" stroke="#151515" stroke-width="1.0"/>
<text x="300.75" y="373.00" font-size="10.6" textLength="23.50" lengthAdjust="spacingAndGlyphs">HBG</text>
<text x="350.00" y="373.00" font-size="10.6" textLength="22.00" lengthAdjust="spacingAndGlyphs">HBB</text>
<text x="393.00" y="373.00" font-size="10.6" textLength="32.80" lengthAdjust="spacingAndGlyphs">ALAS2</text>
<text x="440.75" y="373.00" font-size="10.6" textLength="33.00" lengthAdjust="spacingAndGlyphs">GATA1</text>
<rect x="396.75" y="212.50" width="6.30" height="6.80" fill="#C41230"/>
<rect x="396.75" y="230.00" width="6.30" height="6.80" fill="#125083"/>
<text x="406.75" y="218.90" font-size="10.2" textLength="24.50" lengthAdjust="spacingAndGlyphs">shNC</text>
<text x="406.75" y="236.90" font-size="10.2" textLength="53.20" lengthAdjust="spacingAndGlyphs">DANCR-sh2</text>
</g>
<g id="panelD">
<text x="12.80" y="399.30" font-size="14.4" font-weight="bold" textLength="10.60" lengthAdjust="spacingAndGlyphs">D</text>
<text x="109.00" y="395.30" font-size="9.7" textLength="24.00" lengthAdjust="spacingAndGlyphs">shNC</text>
<text x="273.50" y="395.30" font-size="9.7" textLength="55.00" lengthAdjust="spacingAndGlyphs">DANCR-sh2</text>
<g clip-path="url(#clipD1)">
<rect x="66.20" y="403.20" width="132.70" height="191.10" fill="#DADCDF"/>
<g filter="url(#b8)">
<ellipse cx="100.00" cy="450.00" rx="22.00" ry="14.00" fill="#D1D4D8" opacity="0.48"/>
<ellipse cx="150.00" cy="470.00" rx="24.00" ry="16.00" fill="#E5E7E9" opacity="0.54"/>
<ellipse cx="95.00" cy="540.00" rx="18.00" ry="26.00" fill="#D2D5D9" opacity="0.48"/>
<ellipse cx="160.00" cy="560.00" rx="22.00" ry="14.00" fill="#D3D6DA" opacity="0.42"/>
<ellipse cx="140.00" cy="425.00" rx="30.00" ry="12.00" fill="#E4E6E8" opacity="0.54"/>
<ellipse cx="185.00" cy="445.00" rx="10.00" ry="20.00" fill="#D0D3D7" opacity="0.48"/>
<ellipse cx="120.00" cy="510.00" rx="26.00" ry="12.00" fill="#E4E6E9" opacity="0.54"/>
</g>
<g filter="url(#b3)">
<ellipse cx="66.00" cy="444.60" rx="6.00" ry="8.50" fill="#A85CB4" opacity="0.95"/>
</g>
<g filter="url(#b03)">
<ellipse cx="67.20" cy="408.50" rx="1.00" ry="4.60" fill="#8A68B4"/>
<ellipse cx="67.60" cy="414.50" rx="1.20" ry="2.20" fill="#B49CCC"/>
<circle cx="72.00" cy="410.80" r="4.30" fill="#E6E2EC" opacity="0.95"/>
<circle cx="71.70" cy="410.40" r="2.60" fill="#34307A"/>
<circle cx="105.80" cy="409.70" r="4.90" fill="#8868A6"/>
<circle cx="105.60" cy="409.20" r="3.30" fill="#56387C"/>
<ellipse cx="115.60" cy="402.60" rx="4.40" ry="2.60" fill="#6A3A94"/>
<circle cx="119.30" cy="442.30" r="3.50" fill="none" stroke="#BCAAC4" stroke-width="2.0"/>
<circle cx="119.30" cy="442.30" r="2.20" fill="#E4DEE6"/>
<circle cx="117.60" cy="443.40" r="1.00" fill="#A888B8"/>
</g><g filter="url(#b1)">
<circle cx="138.00" cy="438.00" r="5.80" fill="#D6B2D4" opacity="0.95"/>
</g><g filter="url(#b03)">
<circle cx="137.60" cy="438.40" r="2.80" fill="#CC9ECB" opacity="0.75"/>
<circle cx="107.00" cy="465.40" r="4.20" fill="#AE98BE"/>
<circle cx="108.00" cy="465.80" r="1.90" fill="#D6CCDC"/>
<circle cx="116.30" cy="491.40" r="4.20" fill="none" stroke="#BCAACC" stroke-width="1.9"/>
<circle cx="116.30" cy="491.40" r="3.00" fill="#DCD4E2"/>
<circle cx="114.80" cy="492.60" r="1.40" fill="#C0A8D0"/>
<circle cx="151.00" cy="487.50" r="6.20" fill="#9680B2"/>
<circle cx="149.80" cy="486.00" r="4.60" fill="#5A3C80"/>
</g><g filter="url(#b1)">
<ellipse cx="188.00" cy="476.50" rx="9.50" ry="5.00" fill="#C8A2CC" opacity="0.85"/>
</g><g filter="url(#b03)">
<circle cx="181.00" cy="474.50" r="3.80" fill="#B280B8"/>
<ellipse cx="192.50" cy="477.00" rx="6.00" ry="4.20" fill="#C6A0CA"/>
<circle cx="185.50" cy="478.80" r="1.60" fill="#5C50A0"/>
<circle cx="187.60" cy="476.80" r="1.30" fill="#6458A8"/>
<circle cx="180.80" cy="482.00" r="2.00" fill="#A868AC"/>
<circle cx="186.80" cy="481.80" r="1.00" fill="#5A4898"/>
<circle cx="184.60" cy="476.40" r="1.20" fill="#6A5AA8"/>
<circle cx="172.00" cy="476.00" r="1.00" fill="#7A60B0"/>
<circle cx="72.30" cy="500.20" r="2.00" fill="#6C66B8"/>
<circle cx="80.50" cy="506.20" r="6.00" fill="#5E56A4"/>
<circle cx="80.30" cy="506.60" r="4.90" fill="#6C4C90"/>
<circle cx="83.20" cy="503.40" r="1.80" fill="#B8A8D8"/>
<circle cx="83.10" cy="518.50" r="5.00" fill="#584E9C"/>
<circle cx="83.00" cy="518.40" r="4.10" fill="#5C4084"/>
<circle cx="87.00" cy="523.30" r="0.90" fill="#6060B0"/>
<circle cx="126.50" cy="528.00" r="4.40" fill="#C4B2D0"/>
<circle cx="126.20" cy="528.60" r="2.80" fill="#B8A0C6"/>
<circle cx="125.90" cy="570.40" r="5.80" fill="#5E56A4"/>
<circle cx="125.90" cy="570.20" r="4.80" fill="#6C4C92"/>
<circle cx="120.00" cy="580.80" r="6.00" fill="#584E9C"/>
<circle cx="119.60" cy="580.80" r="5.00" fill="#624488"/>
<circle cx="124.20" cy="580.00" r="2.20" fill="#C8B8DC"/>
<circle cx="126.50" cy="582.50" r="1.20" fill="#7068B8"/>
<ellipse cx="137.70" cy="579.30" rx="1.70" ry="1.00" fill="#C090C0"/>
<circle cx="151.50" cy="576.60" r="1.80" fill="#C9A6CE"/>
<circle cx="154.50" cy="535.80" r="1.20" fill="#6656A4"/>
<circle cx="174.20" cy="545.00" r="0.90" fill="#C0A8D0"/>
<circle cx="195.00" cy="536.70" r="3.90" fill="#6A5CA4"/>
<circle cx="195.00" cy="536.70" r="3.00" fill="#4A3278"/>
<circle cx="187.60" cy="564.40" r="4.80" fill="#7468AC"/>
<circle cx="187.60" cy="563.40" r="3.60" fill="#583E86"/>
<ellipse cx="187.20" cy="567.20" rx="2.80" ry="1.30" fill="#A890C8"/>
</g>
<text x="182.80" y="586.60" font-size="5.4" fill="#222" textLength="14.40" lengthAdjust="spacingAndGlyphs">10 µm</text>
<line x1="183.50" y1="588.80" x2="195.00" y2="588.80" stroke="#222" stroke-width="1.2"/>
</g>
<g clip-path="url(#clipD2)">
<rect x="239.90" y="403.20" width="132.60" height="191.10" fill="#DDDFE2"/>
<g filter="url(#b8)">
<ellipse cx="300.00" cy="470.00" rx="22.00" ry="16.00" fill="#D6D9DC" opacity="0.48"/>
<ellipse cx="270.00" cy="545.00" rx="24.00" ry="16.00" fill="#D7DADD" opacity="0.48"/>
<ellipse cx="340.00" cy="560.00" rx="20.00" ry="14.00" fill="#D8DBDE" opacity="0.48"/>
<ellipse cx="330.00" cy="430.00" rx="26.00" ry="12.00" fill="#E7E9EA" opacity="0.54"/>
<ellipse cx="262.00" cy="440.00" rx="14.00" ry="22.00" fill="#E5E7E9" opacity="0.54"/>
<ellipse cx="366.00" cy="460.00" rx="8.00" ry="30.00" fill="#D5D8DB" opacity="0.48"/>
</g>
<g filter="url(#b2)">
<circle cx="353.80" cy="471.00" r="8.60" fill="#C284B8" opacity="0.9"/>
</g><g filter="url(#b1)">
<ellipse cx="354.40" cy="479.50" rx="4.00" ry="5.00" fill="#AC62A2" opacity="0.9"/>
</g>
<g filter="url(#b03)">
<circle cx="274.50" cy="414.90" r="7.20" fill="#5850A4"/>
<circle cx="274.70" cy="415.00" r="6.20" fill="#7C5C9E"/>
<circle cx="272.60" cy="413.00" r="2.40" fill="#8E72AC"/>
<ellipse cx="289.20" cy="408.90" rx="5.90" ry="5.20" fill="#5850A4" transform="rotate(25 289.20 408.90)"/>
<ellipse cx="289.30" cy="408.90" rx="5.00" ry="4.30" fill="#74549A" transform="rotate(25 289.30 408.90)"/>
<ellipse cx="312.00" cy="434.60" rx="4.40" ry="3.30" fill="#8C5C9E" transform="rotate(-20 312.00 434.60)"/>
<circle cx="310.20" cy="436.60" r="1.70" fill="#7E4E94"/>
<circle cx="314.40" cy="431.60" r="1.50" fill="#9468A2"/>
<circle cx="316.60" cy="428.80" r="1.20" fill="#2C2C80"/>
<ellipse cx="342.40" cy="408.60" rx="3.40" ry="4.00" fill="#90609E" transform="rotate(30 342.40 408.60)"/>
<circle cx="339.60" cy="405.60" r="1.40" fill="#9A70A8"/>
<circle cx="344.60" cy="411.60" r="1.30" fill="#9468A2"/>
<circle cx="275.50" cy="463.10" r="1.80" fill="#2E2E8C"/>
<circle cx="293.50" cy="472.30" r="3.20" fill="#AC80B0"/>
<circle cx="293.20" cy="471.80" r="1.80" fill="#9C68A2"/>
<circle cx="313.00" cy="483.40" r="4.90" fill="#A08AB0"/>
<circle cx="313.40" cy="483.60" r="2.60" fill="#BCACC6"/>
<ellipse cx="337.70" cy="498.50" rx="1.80" ry="1.00" fill="#9A649E" transform="rotate(40 337.70 498.50)"/>
<circle cx="303.90" cy="505.10" r="4.10" fill="#6858A0"/>
<circle cx="303.90" cy="505.10" r="3.00" fill="#50347E"/>
<circle cx="278.50" cy="523.40" r="6.30" fill="#7464A8"/>
<circle cx="278.50" cy="523.40" r="4.60" fill="#9484C4"/>
<circle cx="278.30" cy="523.60" r="3.20" fill="#50347C"/>
<circle cx="278.30" cy="523.60" r="1.20" fill="#8A3C8C"/>
<ellipse cx="278.60" cy="531.60" rx="2.00" ry="0.80" fill="#B080B8"/>
<circle cx="306.50" cy="535.10" r="3.00" fill="#9E62A0"/>
<circle cx="278.80" cy="552.80" r="3.00" fill="#BB96CA"/>
</g><g filter="url(#b07)">
<circle cx="317.40" cy="514.20" r="8.50" fill="#7A72B6"/>
<circle cx="317.00" cy="513.80" r="7.00" fill="#9C92C6"/>
<circle cx="318.90" cy="515.80" r="6.30" fill="#6C4A94"/>
</g><g filter="url(#b03)">
</g><g filter="url(#b07)">
<circle cx="362.80" cy="535.40" r="7.90" fill="#726AB4"/>
<circle cx="362.80" cy="535.00" r="6.60" fill="#A096C8"/>
<circle cx="363.00" cy="537.40" r="6.30" fill="#6C4A94"/>
</g><g filter="url(#b03)">
<circle cx="338.50" cy="502.30" r="2.40" fill="#A878AC"/>
<circle cx="324.20" cy="536.20" r="4.30" fill="#C4A8C6"/>
<circle cx="324.00" cy="536.60" r="2.20" fill="#CDB6D0"/>
<circle cx="336.50" cy="559.70" r="0.80" fill="#7A68B8"/>
</g>
<text x="355.80" y="586.60" font-size="5.4" fill="#222" textLength="14.80" lengthAdjust="spacingAndGlyphs">10 µm</text>
<line x1="356.60" y1="588.80" x2="368.50" y2="588.80" stroke="#222" stroke-width="1.2"/>
</g>
</g>
<g id="panelE">
<text x="12.80" y="616.80" font-size="14.2" font-weight="bold" textLength="9.40" lengthAdjust="spacingAndGlyphs">E</text>
<line x1="34.50" y1="649.25" x2="511.00" y2="649.25" stroke="#C4C7CB" stroke-width="1.0"/>
<line x1="34.50" y1="698.25" x2="511.00" y2="698.25" stroke="#C4C7CB" stroke-width="1.0"/>
<line x1="34.50" y1="723.30" x2="511.00" y2="723.30" stroke="#C4C7CB" stroke-width="1.0"/>
<line x1="34.50" y1="746.60" x2="511.00" y2="746.60" stroke="#C4C7CB" stroke-width="1.0"/>
<line x1="34.50" y1="755.80" x2="511.00" y2="755.80" stroke="#C4C7CB" stroke-width="1.0"/>
<line x1="102.00" y1="812.50" x2="511.00" y2="812.50" stroke="#D0D2D5" stroke-width="1.0"/>
<text x="40.00" y="621.30" font-size="9.6" textLength="34.50" lengthAdjust="spacingAndGlyphs">refGene</text>
<text x="40.00" y="672.00" font-size="9.6" textLength="60.80" lengthAdjust="spacingAndGlyphs">genecodeV29</text>
<text x="37.00" y="714.20" font-size="9.6" textLength="61.00" lengthAdjust="spacingAndGlyphs">Repeatmasker</text>
<text x="40.80" y="737.50" font-size="9.6" textLength="21.00" lengthAdjust="spacingAndGlyphs">Ruler</text>
<text x="39.30" y="753.70" font-size="8.8" textLength="77.50" lengthAdjust="spacingAndGlyphs">58876_TF-1_RUNX1</text>
<text x="43.80" y="778.00" font-size="8.8" textLength="50.80" lengthAdjust="spacingAndGlyphs">58876_TF-1_</text>
<text x="43.80" y="787.50" font-size="8.8" textLength="27.00" lengthAdjust="spacingAndGlyphs">RUNX1</text>
<text x="167.00" y="613.90" font-size="7.3" fill="#36B149" textLength="25.40" lengthAdjust="spacingAndGlyphs" stroke="#36B149" stroke-width="0.15">DANCR</text>
<path d="M192.80 609.40L194.40 611.30L192.80 613.20" fill="none" stroke="#36B149" stroke-width="0.8"/>
<line x1="194.20" y1="611.30" x2="207.40" y2="611.30" stroke="#36B149" stroke-width="2.5"/>
<line x1="238.40" y1="611.30" x2="250.40" y2="611.30" stroke="#36B149" stroke-width="2.5"/>
<text x="167.00" y="621.85" font-size="7.3" fill="#36B149" textLength="25.40" lengthAdjust="spacingAndGlyphs" stroke="#36B149" stroke-width="0.15">DANCR</text>
<path d="M192.80 617.35L194.40 619.25L192.80 621.15" fill="none" stroke="#36B149" stroke-width="0.8"/>
<line x1="194.20" y1="619.25" x2="207.40" y2="619.25" stroke="#36B149" stroke-width="2.5"/>
<line x1="238.40" y1="619.25" x2="250.40" y2="619.25" stroke="#36B149" stroke-width="2.5"/>
<text x="167.00" y="629.75" font-size="7.3" fill="#36B149" textLength="25.40" lengthAdjust="spacingAndGlyphs" stroke="#36B149" stroke-width="0.15">DANCR</text>
<path d="M192.80 625.25L194.40 627.15L192.80 629.05" fill="none" stroke="#36B149" stroke-width="0.8"/>
<line x1="194.20" y1="627.15" x2="207.40" y2="627.15" stroke="#36B149" stroke-width="2.5"/>
<line x1="238.40" y1="627.15" x2="250.40" y2="627.15" stroke="#36B149" stroke-width="2.5"/>
<line x1="207.40" y1="611.30" x2="238.40" y2="611.30" stroke="#36B149" stroke-width="1.45"/>
<path d="M212.10 609.00L214.90 611.30L212.10 613.60L213.00 611.30ZM218.76 609.00L221.56 611.30L218.76 613.60L219.66 611.30ZM225.43 609.00L228.23 611.30L225.43 613.60L226.33 611.30ZM232.09 609.00L234.90 611.30L232.09 613.60L233.00 611.30Z" fill="#36B149" stroke="#36B149" stroke-width="0.35" stroke-linejoin="round"/>
<line x1="250.40" y1="611.30" x2="305.50" y2="611.30" stroke="#36B149" stroke-width="1.45"/>
<path d="M252.09 609.00L254.89 611.30L252.09 613.60L252.99 611.30ZM258.75 609.00L261.56 611.30L258.75 613.60L259.65 611.30ZM265.42 609.00L268.22 611.30L265.42 613.60L266.32 611.30ZM272.08 609.00L274.88 611.30L272.08 613.60L272.98 611.30ZM278.75 609.00L281.55 611.30L278.75 613.60L279.65 611.30ZM285.42 609.00L288.22 611.30L285.42 613.60L286.31 611.30ZM292.08 609.00L294.88 611.30L292.08 613.60L292.98 611.30ZM298.75 609.00L301.55 611.30L298.75 613.60L299.64 611.30Z" fill="#36B149" stroke="#36B149" stroke-width="0.35" stroke-linejoin="round"/>
<line x1="305.50" y1="611.30" x2="370.00" y2="611.30" stroke="#36B149" stroke-width="2.5"/>
<line x1="207.40" y1="619.25" x2="238.40" y2="619.25" stroke="#36B149" stroke-width="1.45"/>
<path d="M212.10 616.95L214.90 619.25L212.10 621.55L213.00 619.25ZM218.76 616.95L221.56 619.25L218.76 621.55L219.66 619.25ZM225.43 616.95L228.23 619.25L225.43 621.55L226.33 619.25ZM232.09 616.95L234.90 619.25L232.09 621.55L233.00 619.25Z" fill="#36B149" stroke="#36B149" stroke-width="0.35" stroke-linejoin="round"/>
<line x1="250.40" y1="619.25" x2="510.00" y2="619.25" stroke="#36B149" stroke-width="1.45"/>
<path d="M252.09 616.95L254.89 619.25L252.09 621.55L252.99 619.25ZM258.75 616.95L261.56 619.25L258.75 621.55L259.65 619.25ZM265.42 616.95L268.22 619.25L265.42 621.55L266.32 619.25ZM272.08 616.95L274.88 619.25L272.08 621.55L272.98 619.25ZM278.75 616.95L281.55 619.25L278.75 621.55L279.65 619.25ZM285.42 616.95L288.22 619.25L285.42 621.55L286.31 619.25ZM292.08 616.95L294.88 619.25L292.08 621.55L292.98 619.25ZM298.75 616.95L301.55 619.25L298.75 621.55L299.64 619.25ZM305.41 616.95L308.21 619.25L305.41 621.55L306.31 619.25ZM312.07 616.95L314.88 619.25L312.07 621.55L312.97 619.25ZM318.74 616.95L321.54 619.25L318.74 621.55L319.64 619.25ZM325.41 616.95L328.21 619.25L325.41 621.55L326.31 619.25ZM332.07 616.95L334.87 619.25L332.07 621.55L332.97 619.25ZM338.74 616.95L341.54 619.25L338.74 621.55L339.63 619.25ZM345.40 616.95L348.20 619.25L345.40 621.55L346.30 619.25ZM352.06 616.95L354.87 619.25L352.06 621.55L352.96 619.25ZM358.73 616.95L361.53 619.25L358.73 621.55L359.63 619.25ZM365.39 616.95L368.19 619.25L365.39 621.55L366.29 619.25ZM372.06 616.95L374.86 619.25L372.06 621.55L372.96 619.25ZM378.72 616.95L381.52 619.25L378.72 621.55L379.62 619.25ZM385.39 616.95L388.19 619.25L385.39 621.55L386.29 619.25ZM392.06 616.95L394.86 619.25L392.06 621.55L392.95 619.25ZM398.72 616.95L401.52 619.25L398.72 621.55L399.62 619.25ZM405.38 616.95L408.19 619.25L405.38 621.55L406.28 619.25ZM412.05 616.95L414.85 619.25L412.05 621.55L412.95 619.25ZM418.71 616.95L421.51 619.25L418.71 621.55L419.61 619.25ZM425.38 616.95L428.18 619.25L425.38 621.55L426.28 619.25ZM432.05 616.95L434.85 619.25L432.05 621.55L432.94 619.25ZM438.71 616.95L441.51 619.25L438.71 621.55L439.61 619.25ZM445.38 616.95L448.18 619.25L445.38 621.55L446.27 619.25ZM452.04 616.95L454.84 619.25L452.04 621.55L452.94 619.25ZM458.70 616.95L461.50 619.25L458.70 621.55L459.60 619.25ZM465.37 616.95L468.17 619.25L465.37 621.55L466.27 619.25ZM472.04 616.95L474.84 619.25L472.04 621.55L472.94 619.25ZM478.70 616.95L481.50 619.25L478.70 621.55L479.60 619.25ZM485.36 616.95L488.16 619.25L485.36 621.55L486.26 619.25ZM492.03 616.95L494.83 619.25L492.03 621.55L492.93 619.25ZM498.69 616.95L501.50 619.25L498.69 621.55L499.59 619.25ZM505.36 616.95L508.16 619.25L505.36 621.55L506.26 619.25Z" fill="#36B149" stroke="#36B149" stroke-width="0.35" stroke-linejoin="round"/>
<line x1="207.40" y1="627.15" x2="238.40" y2="627.15" stroke="#36B149" stroke-width="1.45"/>
<path d="M212.10 624.85L214.90 627.15L212.10 629.45L213.00 627.15ZM218.76 624.85L221.56 627.15L218.76 629.45L219.66 627.15ZM225.43 624.85L228.23 627.15L225.43 629.45L226.33 627.15ZM232.09 624.85L234.90 627.15L232.09 629.45L233.00 627.15Z" fill="#36B149" stroke="#36B149" stroke-width="0.35" stroke-linejoin="round"/>
<line x1="250.40" y1="627.15" x2="510.00" y2="627.15" stroke="#36B149" stroke-width="1.45"/>
<path d="M252.09 624.85L254.89 627.15L252.09 629.45L252.99 627.15ZM258.75 624.85L261.56 627.15L258.75 629.45L259.65 627.15ZM265.42 624.85L268.22 627.15L265.42 629.45L266.32 627.15ZM272.08 624.85L274.88 627.15L272.08 629.45L272.98 627.15ZM278.75 624.85L281.55 627.15L278.75 629.45L279.65 627.15ZM285.42 624.85L288.22 627.15L285.42 629.45L286.31 627.15ZM292.08 624.85L294.88 627.15L292.08 629.45L292.98 627.15ZM298.75 624.85L301.55 627.15L298.75 629.45L299.64 627.15ZM305.41 624.85L308.21 627.15L305.41 629.45L306.31 627.15ZM312.07 624.85L314.88 627.15L312.07 629.45L312.97 627.15ZM318.74 624.85L321.54 627.15L318.74 629.45L319.64 627.15ZM325.41 624.85L328.21 627.15L325.41 629.45L326.31 627.15ZM332.07 624.85L334.87 627.15L332.07 629.45L332.97 627.15ZM338.74 624.85L341.54 627.15L338.74 629.45L339.63 627.15ZM345.40 624.85L348.20 627.15L345.40 629.45L346.30 627.15ZM352.06 624.85L354.87 627.15L352.06 629.45L352.96 627.15ZM358.73 624.85L361.53 627.15L358.73 629.45L359.63 627.15ZM365.39 624.85L368.19 627.15L365.39 629.45L366.29 627.15ZM372.06 624.85L374.86 627.15L372.06 629.45L372.96 627.15ZM378.72 624.85L381.52 627.15L378.72 629.45L379.62 627.15ZM385.39 624.85L388.19 627.15L385.39 629.45L386.29 627.15ZM392.06 624.85L394.86 627.15L392.06 629.45L392.95 627.15ZM398.72 624.85L401.52 627.15L398.72 629.45L399.62 627.15ZM405.38 624.85L408.19 627.15L405.38 629.45L406.28 627.15ZM412.05 624.85L414.85 627.15L412.05 629.45L412.95 627.15ZM418.71 624.85L421.51 627.15L418.71 629.45L419.61 627.15ZM425.38 624.85L428.18 627.15L425.38 629.45L426.28 627.15ZM432.05 624.85L434.85 627.15L432.05 629.45L432.94 627.15ZM438.71 624.85L441.51 627.15L438.71 629.45L439.61 627.15ZM445.38 624.85L448.18 627.15L445.38 629.45L446.27 627.15ZM452.04 624.85L454.84 627.15L452.04 629.45L452.94 627.15ZM458.70 624.85L461.50 627.15L458.70 629.45L459.60 627.15ZM465.37 624.85L468.17 627.15L465.37 629.45L466.27 627.15ZM472.04 624.85L474.84 627.15L472.04 629.45L472.94 627.15ZM478.70 624.85L481.50 627.15L478.70 629.45L479.60 627.15ZM485.36 624.85L488.16 627.15L485.36 629.45L486.26 627.15ZM492.03 624.85L494.83 627.15L492.03 629.45L492.93 627.15ZM498.69 624.85L501.50 627.15L498.69 629.45L499.59 627.15ZM505.36 624.85L508.16 627.15L505.36 629.45L506.26 627.15Z" fill="#36B149" stroke="#36B149" stroke-width="0.35" stroke-linejoin="round"/>
<line x1="306.00" y1="627.15" x2="311.00" y2="627.15" stroke="#36B149" stroke-width="1.9"/>
<text x="191.30" y="637.60" font-size="7.3" fill="#36B149" textLength="29.90" lengthAdjust="spacingAndGlyphs" stroke="#36B149" stroke-width="0.15">MIR4449</text>
<path d="M221.60 633.10L223.20 635.00L221.60 636.90" fill="none" stroke="#36B149" stroke-width="0.8"/>
<line x1="223.00" y1="635.00" x2="229.60" y2="635.00" stroke="#36B149" stroke-width="2.0"/>
<text x="243.80" y="645.60" font-size="7.3" fill="#36B149" textLength="33.60" lengthAdjust="spacingAndGlyphs" stroke="#36B149" stroke-width="0.15">SNORA26</text>
<path d="M278.40 641.10L280.00 643.00L278.40 644.90" fill="none" stroke="#36B149" stroke-width="0.8"/>
<line x1="279.80" y1="643.00" x2="292.60" y2="643.00" stroke="#36B149" stroke-width="2.0"/>
<text x="167.50" y="656.00" font-size="7.3" fill="#36B149" textLength="24.90" lengthAdjust="spacingAndGlyphs" stroke="#36B149" stroke-width="0.15">DANCR</text>
<line x1="208.80" y1="653.40" x2="237.70" y2="653.40" stroke="#36B149" stroke-width="1.45"/>
<path d="M212.10 651.10L214.90 653.40L212.10 655.70L213.00 653.40ZM218.76 651.10L221.56 653.40L218.76 655.70L219.66 653.40ZM225.43 651.10L228.23 653.40L225.43 655.70L226.33 653.40ZM232.09 651.10L234.90 653.40L232.09 655.70L233.00 653.40Z" fill="#36B149" stroke="#36B149" stroke-width="0.35" stroke-linejoin="round"/>
<line x1="251.40" y1="653.40" x2="305.70" y2="653.40" stroke="#36B149" stroke-width="1.45"/>
<path d="M252.09 651.10L254.89 653.40L252.09 655.70L252.99 653.40ZM258.75 651.10L261.56 653.40L258.75 655.70L259.65 653.40ZM265.42 651.10L268.22 653.40L265.42 655.70L266.32 653.40ZM272.08 651.10L274.88 653.40L272.08 655.70L272.98 653.40ZM278.75 651.10L281.55 653.40L278.75 655.70L279.65 653.40ZM285.42 651.10L288.22 653.40L285.42 655.70L286.31 653.40ZM292.08 651.10L294.88 653.40L292.08 655.70L292.98 653.40ZM298.75 651.10L301.55 653.40L298.75 655.70L299.64 653.40Z" fill="#36B149" stroke="#36B149" stroke-width="0.35" stroke-linejoin="round"/>
<path d="M195.40 651.15L198.51 651.15L199.80 653.40L198.51 655.65L195.40 655.65L196.69 653.40ZM200.00 651.15L203.11 651.15L204.40 653.40L203.11 655.65L200.00 655.65L201.29 653.40ZM204.60 651.15L207.71 651.15L209.00 653.40L207.71 655.65L204.60 655.65L205.89 653.40Z" fill="#36B149"/>
<path d="M237.70 651.15L240.79 651.15L242.07 653.40L240.79 655.65L237.70 655.65L238.98 653.40ZM242.27 651.15L245.35 651.15L246.63 653.40L245.35 655.65L242.27 655.65L243.55 653.40ZM246.83 651.15L249.92 651.15L251.20 653.40L249.92 655.65L246.83 655.65L248.11 653.40Z" fill="#36B149"/>
<path d="M305.70 651.15L310.23 651.15L311.93 653.40L310.23 655.65L305.70 655.65L307.40 653.40ZM312.13 651.15L316.66 651.15L318.36 653.40L316.66 655.65L312.13 655.65L313.83 653.40ZM318.56 651.15L323.09 651.15L324.79 653.40L323.09 655.65L318.56 655.65L320.26 653.40ZM324.99 651.15L329.52 651.15L331.22 653.40L329.52 655.65L324.99 655.65L326.69 653.40ZM331.42 651.15L335.95 651.15L337.65 653.40L335.95 655.65L331.42 655.65L333.12 653.40ZM337.85 651.15L342.38 651.15L344.08 653.40L342.38 655.65L337.85 655.65L339.55 653.40ZM344.28 651.15L348.81 651.15L350.51 653.40L348.81 655.65L344.28 655.65L345.98 653.40ZM350.71 651.15L355.24 651.15L356.94 653.40L355.24 655.65L350.71 655.65L352.41 653.40ZM357.14 651.15L361.67 651.15L363.37 653.40L361.67 655.65L357.14 655.65L358.84 653.40ZM363.57 651.15L370.00 651.15L370.00 655.65L363.57 655.65L365.27 653.40Z" fill="#36B149"/>
<text x="177.60" y="663.60" font-size="7.3" fill="#36B149" textLength="25.40" lengthAdjust="spacingAndGlyphs" stroke="#36B149" stroke-width="0.15">DANCR</text>
<line x1="210.00" y1="661.00" x2="237.70" y2="661.00" stroke="#36B149" stroke-width="1.45"/>
<path d="M212.10 658.70L214.90 661.00L212.10 663.30L213.00 661.00ZM218.76 658.70L221.56 661.00L218.76 663.30L219.66 661.00ZM225.43 658.70L228.23 661.00L225.43 663.30L226.33 661.00ZM232.09 658.70L234.90 661.00L232.09 663.30L233.00 661.00Z" fill="#36B149" stroke="#36B149" stroke-width="0.35" stroke-linejoin="round"/>
<path d="M205.40 659.30L209.52 659.30L211.20 661.00L209.52 662.70L205.40 662.70L207.08 661.00Z" fill="#A8DCB0" stroke="#36B149" stroke-width="0.8"/>
<path d="M237.70 658.75L242.02 658.75L243.72 661.00L242.02 663.25L237.70 663.25L239.40 661.00ZM243.92 658.75L248.24 658.75L249.94 661.00L248.24 663.25L243.92 663.25L245.62 661.00ZM250.14 658.75L254.46 658.75L256.16 661.00L254.46 663.25L250.14 663.25L251.84 661.00ZM256.36 658.75L260.68 658.75L262.38 661.00L260.68 663.25L256.36 663.25L258.06 661.00ZM262.58 658.75L268.80 658.75L268.80 663.25L262.58 663.25L264.28 661.00Z" fill="#A8DCB0" stroke="#36B149" stroke-width="0.8"/>
<text x="292.60" y="663.60" font-size="7.3" fill="#36B149" textLength="24.80" lengthAdjust="spacingAndGlyphs" stroke="#36B149" stroke-width="0.15">DANCR</text>
<line x1="327.00" y1="661.00" x2="377.60" y2="661.00" stroke="#36B149" stroke-width="1.45"/>
<path d="M332.07 658.70L334.87 661.00L332.07 663.30L332.97 661.00ZM338.74 658.70L341.54 661.00L338.74 663.30L339.63 661.00ZM345.40 658.70L348.20 661.00L345.40 663.30L346.30 661.00ZM352.06 658.70L354.87 661.00L352.06 663.30L352.96 661.00ZM358.73 658.70L361.53 661.00L358.73 663.30L359.63 661.00ZM365.39 658.70L368.19 661.00L365.39 663.30L366.29 661.00ZM372.06 658.70L374.86 661.00L372.06 663.30L372.96 661.00Z" fill="#36B149" stroke="#36B149" stroke-width="0.35" stroke-linejoin="round"/>
<path d="M319.20 658.75L327.00 658.75L327.00 663.25L319.20 663.25L320.90 661.00Z" fill="#36B149"/>
<path d="M377.60 658.75L382.44 658.75L384.14 661.00L382.44 663.25L377.60 663.25L379.30 661.00ZM384.34 658.75L389.18 658.75L390.88 661.00L389.18 663.25L384.34 663.25L386.04 661.00ZM391.08 658.75L395.92 658.75L397.62 661.00L395.92 663.25L391.08 663.25L392.78 661.00ZM397.82 658.75L402.66 658.75L404.36 661.00L402.66 663.25L397.82 663.25L399.52 661.00ZM404.56 658.75L409.40 658.75L411.10 661.00L409.40 663.25L404.56 663.25L406.26 661.00ZM411.30 658.75L416.14 658.75L417.84 661.00L416.14 663.25L411.30 663.25L413.00 661.00ZM418.04 658.75L422.88 658.75L424.58 661.00L422.88 663.25L418.04 663.25L419.74 661.00ZM424.78 658.75L429.62 658.75L431.32 661.00L429.62 663.25L424.78 663.25L426.48 661.00ZM431.52 658.75L436.36 658.75L438.06 661.00L436.36 663.25L431.52 663.25L433.22 661.00ZM438.26 658.75L445.00 658.75L445.00 663.25L438.26 663.25L439.96 661.00Z" fill="#36B149"/>
<text x="191.30" y="670.70" font-size="7.3" fill="#36B149" textLength="29.90" lengthAdjust="spacingAndGlyphs" stroke="#36B149" stroke-width="0.15">MIR4449</text>
<text x="205.00" y="678.80" font-size="7.3" fill="#36B149" textLength="25.60" lengthAdjust="spacingAndGlyphs" stroke="#36B149" stroke-width="0.15">DANCR</text>
<line x1="247.00" y1="676.20" x2="305.70" y2="676.20" stroke="#36B149" stroke-width="1.45"/>
<path d="M252.09 673.90L254.89 676.20L252.09 678.50L252.99 676.20ZM258.75 673.90L261.56 676.20L258.75 678.50L259.65 676.20ZM265.42 673.90L268.22 676.20L265.42 678.50L266.32 676.20ZM272.08 673.90L274.88 676.20L272.08 678.50L272.98 676.20ZM278.75 673.90L281.55 676.20L278.75 678.50L279.65 676.20ZM285.42 673.90L288.22 676.20L285.42 678.50L286.31 676.20ZM292.08 673.90L294.88 676.20L292.08 678.50L292.98 676.20ZM298.75 673.90L301.55 676.20L298.75 678.50L299.64 676.20Z" fill="#36B149" stroke="#36B149" stroke-width="0.35" stroke-linejoin="round"/>
<path d="M232.40 673.95L235.85 673.95L237.27 676.20L235.85 678.45L232.40 678.45L233.82 676.20ZM237.47 673.95L240.91 673.95L242.33 676.20L240.91 678.45L237.47 678.45L238.89 676.20ZM242.53 673.95L245.98 673.95L247.40 676.20L245.98 678.45L242.53 678.45L243.95 676.20Z" fill="#36B149"/>
<path d="M305.70 673.95L310.23 673.95L311.93 676.20L310.23 678.45L305.70 678.45L307.40 676.20ZM312.13 673.95L316.66 673.95L318.36 676.20L316.66 678.45L312.13 678.45L313.83 676.20ZM318.56 673.95L323.09 673.95L324.79 676.20L323.09 678.45L318.56 678.45L320.26 676.20ZM324.99 673.95L329.52 673.95L331.22 676.20L329.52 678.45L324.99 678.45L326.69 676.20ZM331.42 673.95L335.95 673.95L337.65 676.20L335.95 678.45L331.42 678.45L333.12 676.20ZM337.85 673.95L342.38 673.95L344.08 676.20L342.38 678.45L337.85 678.45L339.55 676.20ZM344.28 673.95L348.81 673.95L350.51 676.20L348.81 678.45L344.28 678.45L345.98 676.20ZM350.71 673.95L355.24 673.95L356.94 676.20L355.24 678.45L350.71 678.45L352.41 676.20ZM357.14 673.95L361.67 673.95L363.37 676.20L361.67 678.45L357.14 678.45L358.84 676.20ZM363.57 673.95L370.00 673.95L370.00 678.45L363.57 678.45L365.27 676.20Z" fill="#36B149"/>
<text x="210.00" y="686.90" font-size="7.3" fill="#36B149" textLength="25.00" lengthAdjust="spacingAndGlyphs" stroke="#36B149" stroke-width="0.15">DANCR</text>
<line x1="251.00" y1="684.30" x2="510.00" y2="684.30" stroke="#36B149" stroke-width="1.45"/>
<path d="M252.09 682.00L254.89 684.30L252.09 686.60L252.99 684.30ZM258.75 682.00L261.56 684.30L258.75 686.60L259.65 684.30ZM265.42 682.00L268.22 684.30L265.42 686.60L266.32 684.30ZM272.08 682.00L274.88 684.30L272.08 686.60L272.98 684.30ZM278.75 682.00L281.55 684.30L278.75 686.60L279.65 684.30ZM285.42 682.00L288.22 684.30L285.42 686.60L286.31 684.30ZM292.08 682.00L294.88 684.30L292.08 686.60L292.98 684.30ZM298.75 682.00L301.55 684.30L298.75 686.60L299.64 684.30ZM305.41 682.00L308.21 684.30L305.41 686.60L306.31 684.30ZM312.07 682.00L314.88 684.30L312.07 686.60L312.97 684.30ZM318.74 682.00L321.54 684.30L318.74 686.60L319.64 684.30ZM325.41 682.00L328.21 684.30L325.41 686.60L326.31 684.30ZM332.07 682.00L334.87 684.30L332.07 686.60L332.97 684.30ZM338.74 682.00L341.54 684.30L338.74 686.60L339.63 684.30ZM345.40 682.00L348.20 684.30L345.40 686.60L346.30 684.30ZM352.06 682.00L354.87 684.30L352.06 686.60L352.96 684.30ZM358.73 682.00L361.53 684.30L358.73 686.60L359.63 684.30ZM365.39 682.00L368.19 684.30L365.39 686.60L366.29 684.30ZM372.06 682.00L374.86 684.30L372.06 686.60L372.96 684.30ZM378.72 682.00L381.52 684.30L378.72 686.60L379.62 684.30ZM385.39 682.00L388.19 684.30L385.39 686.60L386.29 684.30ZM392.06 682.00L394.86 684.30L392.06 686.60L392.95 684.30ZM398.72 682.00L401.52 684.30L398.72 686.60L399.62 684.30ZM405.38 682.00L408.19 684.30L405.38 686.60L406.28 684.30ZM412.05 682.00L414.85 684.30L412.05 686.60L412.95 684.30ZM418.71 682.00L421.51 684.30L418.71 686.60L419.61 684.30ZM425.38 682.00L428.18 684.30L425.38 686.60L426.28 684.30ZM432.05 682.00L434.85 684.30L432.05 686.60L432.94 684.30ZM438.71 682.00L441.51 684.30L438.71 686.60L439.61 684.30ZM445.38 682.00L448.18 684.30L445.38 686.60L446.27 684.30ZM452.04 682.00L454.84 684.30L452.04 686.60L452.94 684.30ZM458.70 682.00L461.50 684.30L458.70 686.60L459.60 684.30ZM465.37 682.00L468.17 684.30L465.37 686.60L466.27 684.30ZM472.04 682.00L474.84 684.30L472.04 686.60L472.94 684.30ZM478.70 682.00L481.50 684.30L478.70 686.60L479.60 684.30ZM485.36 682.00L488.16 684.30L485.36 686.60L486.26 684.30ZM492.03 682.00L494.83 684.30L492.03 686.60L492.93 684.30ZM498.69 682.00L501.50 684.30L498.69 686.60L499.59 684.30ZM505.36 682.00L508.16 684.30L505.36 686.60L506.26 684.30Z" fill="#36B149" stroke="#36B149" stroke-width="0.35" stroke-linejoin="round"/>
<path d="M237.00 682.05L240.26 682.05L241.60 684.30L240.26 686.55L237.00 686.55L238.34 684.30ZM241.80 682.05L245.06 682.05L246.40 684.30L245.06 686.55L241.80 686.55L243.14 684.30ZM246.60 682.05L249.86 682.05L251.20 684.30L249.86 686.55L246.60 686.55L247.94 684.30Z" fill="#36B149"/>
<line x1="305.30" y1="684.30" x2="311.80" y2="684.30" stroke="#36B149" stroke-width="3.8"/>
<text x="243.80" y="694.60" font-size="7.3" fill="#36B149" textLength="33.60" lengthAdjust="spacingAndGlyphs" stroke="#36B149" stroke-width="0.15">SNORA26</text>
<path d="M280.00 689.75L282.87 689.75L284.07 692.00L282.87 694.25L280.00 694.25L281.19 692.00ZM284.27 689.75L287.14 689.75L288.33 692.00L287.14 694.25L284.27 694.25L285.46 692.00ZM288.53 689.75L292.80 689.75L292.80 694.25L288.53 694.25L289.73 692.00Z" fill="#36B149"/>
<text x="95.60" y="705.00" font-size="9.2" text-anchor="end" textLength="11.80" lengthAdjust="spacingAndGlyphs">1.0</text>
<text x="95.60" y="723.00" font-size="9.2" text-anchor="end" textLength="11.80" lengthAdjust="spacingAndGlyphs">0.0</text>
<path d="M97.5 701.3H102V721.3H97.5" fill="none" stroke="#111" stroke-width="1"/>
<rect x="108.00" y="705.50" width="18.20" height="15.90" fill="#C41230"/>
<text x="110.60" y="716.30" font-size="7.6" fill="#fff" textLength="12.40" lengthAdjust="spacingAndGlyphs">MIR</text>
<path d="M111.60 717.60L113.00 719.30L111.60 721.00M115.80 717.60L117.20 719.30L115.80 721.00M120.20 717.60L121.60 719.30L120.20 721.00" fill="none" stroke="#fff" stroke-width="0.75"/>
<rect x="149.50" y="707.00" width="6.80" height="14.40" fill="#F7941D"/>
<path d="M151.60 717.50L150.20 719.20L151.60 720.90" fill="none" stroke="#fff" stroke-width="0.75"/>
<rect x="330.00" y="705.60" width="47.00" height="15.80" fill="#C41230"/>
<rect x="332.50" y="704.50" width="42.50" height="16.90" fill="#0E6A50"/>
<text x="341.30" y="715.60" font-size="7.2" fill="#fff" textLength="25.00" lengthAdjust="spacingAndGlyphs">LTR21A</text>
<path d="M331.00 717.10L332.40 718.80L331.00 720.50M337.90 717.10L339.30 718.80L337.90 720.50M344.80 717.10L346.20 718.80L344.80 720.50M351.60 717.10L353.00 718.80L351.60 720.50M358.60 717.10L360.00 718.80L358.60 720.50M364.90 717.10L366.30 718.80L364.90 720.50" fill="none" stroke="#fff" stroke-width="0.75"/>
<path d="M371.6 717.2L374.6 720.4M374.6 717.2L371.6 720.4" fill="none" stroke="#fff" stroke-width="0.75"/>
<rect x="420.30" y="703.00" width="12.50" height="18.40" fill="#0E6A50"/>
<path d="M425.40 717.10L426.80 718.80L425.40 720.50M430.20 717.10L431.60 718.80L430.20 720.50" fill="none" stroke="#fff" stroke-width="0.75"/>
<path d="M422.00 717.10L420.60 718.80L422.00 720.50" fill="none" stroke="#fff" stroke-width="0.75"/>
<rect x="434.20" y="703.00" width="10.80" height="18.40" fill="#C41230"/>
<rect x="445.00" y="704.20" width="8.50" height="17.20" fill="#C41230"/>
<path d="M434.60 717.10L436.00 718.80L434.60 720.50M440.20 717.10L441.60 718.80L440.20 720.50M446.20 717.10L447.60 718.80L446.20 720.50M450.60 717.10L452.00 718.80L450.60 720.50" fill="none" stroke="#fff" stroke-width="0.75"/>
<rect x="454.20" y="705.00" width="8.60" height="16.40" fill="#0E6A50"/>
<rect x="462.80" y="702.40" width="19.20" height="19.00" fill="#0E6A50"/>
<path d="M456.00 717.10L454.60 718.80L456.00 720.50" fill="none" stroke="#fff" stroke-width="0.75"/>
<path d="M461.40 717.10L462.80 718.80L461.40 720.50M468.20 717.10L469.60 718.80L468.20 720.50M475.80 717.10L477.20 718.80L475.80 720.50" fill="none" stroke="#fff" stroke-width="0.75"/>
<circle cx="461.0" cy="718.8" r="1.3" fill="none" stroke="#fff" stroke-width="0.7"/>
<rect x="485.90" y="705.80" width="21.40" height="15.60" fill="#F7941D"/>
<text x="490.50" y="715.80" font-size="7.4" fill="#4a2c08" textLength="11.00" lengthAdjust="spacingAndGlyphs">L2a</text>
<path d="M488.00 717.50L486.60 719.20L488.00 720.90M492.80 717.50L491.40 719.20L492.80 720.90M507.00 717.50L505.60 719.20L507.00 720.90" fill="none" stroke="#fff" stroke-width="0.75"/>
<line x1="102.00" y1="726.80" x2="511.00" y2="726.80" stroke="#111" stroke-width="1.6"/>
<line x1="102.00" y1="735.00" x2="511.00" y2="735.00" stroke="#333" stroke-width="0.9"/>
<line x1="105.30" y1="732.40" x2="105.30" y2="735.00" stroke="#222" stroke-width="0.9"/>
<line x1="115.36" y1="732.40" x2="115.36" y2="735.00" stroke="#222" stroke-width="0.9"/>
<line x1="125.42" y1="732.40" x2="125.42" y2="735.00" stroke="#222" stroke-width="0.9"/>
<line x1="135.48" y1="732.40" x2="135.48" y2="735.00" stroke="#222" stroke-width="0.9"/>
<line x1="145.54" y1="732.40" x2="145.54" y2="735.00" stroke="#222" stroke-width="0.9"/>
<line x1="155.60" y1="730.40" x2="155.60" y2="735.00" stroke="#222" stroke-width="0.9"/>
<line x1="165.66" y1="732.40" x2="165.66" y2="735.00" stroke="#222" stroke-width="0.9"/>
<line x1="175.72" y1="732.40" x2="175.72" y2="735.00" stroke="#222" stroke-width="0.9"/>
<line x1="185.78" y1="732.40" x2="185.78" y2="735.00" stroke="#222" stroke-width="0.9"/>
<line x1="195.84" y1="732.40" x2="195.84" y2="735.00" stroke="#222" stroke-width="0.9"/>
<line x1="205.90" y1="732.40" x2="205.90" y2="735.00" stroke="#222" stroke-width="0.9"/>
<line x1="215.96" y1="732.40" x2="215.96" y2="735.00" stroke="#222" stroke-width="0.9"/>
<line x1="226.02" y1="732.40" x2="226.02" y2="735.00" stroke="#222" stroke-width="0.9"/>
<line x1="236.08" y1="732.40" x2="236.08" y2="735.00" stroke="#222" stroke-width="0.9"/>
<line x1="246.14" y1="732.40" x2="246.14" y2="735.00" stroke="#222" stroke-width="0.9"/>
<line x1="256.20" y1="730.40" x2="256.20" y2="735.00" stroke="#222" stroke-width="0.9"/>
<line x1="266.26" y1="732.40" x2="266.26" y2="735.00" stroke="#222" stroke-width="0.9"/>
<line x1="276.32" y1="732.40" x2="276.32" y2="735.00" stroke="#222" stroke-width="0.9"/>
<line x1="286.38" y1="732.40" x2="286.38" y2="735.00" stroke="#222" stroke-width="0.9"/>
<line x1="296.44" y1="732.40" x2="296.44" y2="735.00" stroke="#222" stroke-width="0.9"/>
<line x1="306.50" y1="732.40" x2="306.50" y2="735.00" stroke="#222" stroke-width="0.9"/>
<line x1="316.56" y1="732.40" x2="316.56" y2="735.00" stroke="#222" stroke-width="0.9"/>
<line x1="326.62" y1="732.40" x2="326.62" y2="735.00" stroke="#222" stroke-width="0.9"/>
<line x1="336.68" y1="732.40" x2="336.68" y2="735.00" stroke="#222" stroke-width="0.9"/>
<line x1="346.74" y1="732.40" x2="346.74" y2="735.00" stroke="#222" stroke-width="0.9"/>
<line x1="356.80" y1="730.40" x2="356.80" y2="735.00" stroke="#222" stroke-width="0.9"/>
<line x1="366.86" y1="732.40" x2="366.86" y2="735.00" stroke="#222" stroke-width="0.9"/>
<line x1="376.92" y1="732.40" x2="376.92" y2="735.00" stroke="#222" stroke-width="0.9"/>
<line x1="386.98" y1="732.40" x2="386.98" y2="735.00" stroke="#222" stroke-width="0.9"/>
<line x1="397.04" y1="732.40" x2="397.04" y2="735.00" stroke="#222" stroke-width="0.9"/>
<line x1="407.10" y1="732.40" x2="407.10" y2="735.00" stroke="#222" stroke-width="0.9"/>
<line x1="417.16" y1="732.40" x2="417.16" y2="735.00" stroke="#222" stroke-width="0.9"/>
<line x1="427.22" y1="732.40" x2="427.22" y2="735.00" stroke="#222" stroke-width="0.9"/>
<line x1="437.28" y1="732.40" x2="437.28" y2="735.00" stroke="#222" stroke-width="0.9"/>
<line x1="447.34" y1="732.40" x2="447.34" y2="735.00" stroke="#222" stroke-width="0.9"/>
<line x1="457.40" y1="730.40" x2="457.40" y2="735.00" stroke="#222" stroke-width="0.9"/>
<line x1="467.46" y1="732.40" x2="467.46" y2="735.00" stroke="#222" stroke-width="0.9"/>
<line x1="477.52" y1="732.40" x2="477.52" y2="735.00" stroke="#222" stroke-width="0.9"/>
<line x1="487.58" y1="732.40" x2="487.58" y2="735.00" stroke="#222" stroke-width="0.9"/>
<line x1="497.64" y1="732.40" x2="497.64" y2="735.00" stroke="#222" stroke-width="0.9"/>
<line x1="507.70" y1="732.40" x2="507.70" y2="735.00" stroke="#222" stroke-width="0.9"/>
<text x="90.00" y="743.70" font-size="8.9" textLength="16.20" lengthAdjust="spacingAndGlyphs">chr4</text>
<text x="156.50" y="743.70" font-size="8.9" text-anchor="middle" textLength="39.40" lengthAdjust="spacingAndGlyphs">52712000</text>
<text x="255.80" y="743.70" font-size="8.9" text-anchor="middle" textLength="39.40" lengthAdjust="spacingAndGlyphs">52713000</text>
<text x="356.60" y="743.70" font-size="8.9" text-anchor="middle" textLength="39.40" lengthAdjust="spacingAndGlyphs">52714000</text>
<text x="456.40" y="743.70" font-size="8.9" text-anchor="middle" textLength="39.40" lengthAdjust="spacingAndGlyphs">52715000</text>
<rect x="185.90" y="749.00" width="26.80" height="5.10" fill="#125083"/>
<path d="M188.10 749.0L189.60 751.55L188.10 754.1M192.70 749.0L194.20 751.55L192.70 754.1M197.30 749.0L198.80 751.55L197.30 754.1M201.90 749.0L203.40 751.55L201.90 754.1M206.50 749.0L208.00 751.55L206.50 754.1" fill="none" stroke="#fff" stroke-width="0.75"/>
<text x="95.20" y="763.80" font-size="9.2" text-anchor="end" textLength="11.40" lengthAdjust="spacingAndGlyphs">0.8</text>
<text x="95.60" y="814.30" font-size="9.2" text-anchor="end" textLength="11.80" lengthAdjust="spacingAndGlyphs">0.0</text>
<path d="M97.5 757.6H102V812.2H97.5" fill="none" stroke="#111" stroke-width="1"/>
<polygon points="102.40,812.30 102.40,800.00 103.40,806.00 104.00,808.00 109.60,808.00 111.00,812.30 122.00,812.30 124.00,808.00 136.00,808.00 138.00,812.30 151.60,812.30 154.00,807.00 156.00,804.00 157.00,798.00 158.00,790.00 159.40,783.00 166.00,783.00 167.50,786.00 169.00,789.00 170.00,793.00 171.00,797.00 172.00,800.50 173.00,804.00 175.00,808.00 176.00,805.00 177.00,802.00 178.00,798.00 179.00,794.00 181.00,792.00 182.00,789.00 183.00,786.00 184.00,783.00 185.00,780.00 186.40,775.00 187.40,776.50 188.20,777.00 189.00,774.00 190.00,771.00 192.40,770.00 193.60,768.00 195.00,766.00 196.00,761.00 198.00,761.00 198.60,763.50 199.60,761.00 200.40,765.00 201.00,768.00 201.80,765.00 202.40,762.00 203.20,760.00 204.00,758.00 204.80,760.00 205.60,762.00 207.00,761.00 207.80,763.50 208.40,766.00 210.00,771.00 211.60,776.00 213.00,775.00 213.80,778.50 214.40,782.00 215.20,779.50 216.00,777.00 216.80,780.50 217.60,784.00 220.00,791.00 222.00,797.00 224.00,801.00 226.00,805.00 228.00,802.40 229.00,805.00 230.00,808.00 240.00,808.00 242.00,812.30 247.60,812.30 249.00,808.00 261.00,808.00 262.40,812.30 266.40,812.30 269.00,803.00 280.00,803.00 282.40,812.30 295.00,812.30 297.00,808.00 308.00,808.00 309.60,803.00 311.00,808.00 324.00,808.00 325.00,810.00 327.00,808.00 332.00,803.00 339.00,803.00 342.00,808.00 344.40,808.00 346.00,812.30 360.00,812.30 362.00,808.00 374.00,808.00 375.60,812.30 399.60,812.30 401.60,808.00 414.00,808.00 415.60,812.30 418.00,812.30 420.00,808.00 432.00,808.00 433.50,810.00 435.00,808.00 439.50,803.00 448.00,803.00 450.00,808.00 451.60,802.40 453.60,808.00 457.00,808.00 459.00,803.00 464.40,803.00 466.40,808.00 471.60,808.00 473.40,812.30 479.60,812.30 482.00,808.00 484.00,807.60 486.40,798.00 491.00,797.60 493.60,788.00 495.00,792.40 499.00,792.40 501.60,802.40 506.00,802.40 508.00,812.30" fill="#125083"/>
<rect x="34.5" y="607.5" width="476.5" height="208.5" fill="none" stroke="#111" stroke-width="1.2"/>
</g>
<rect x="0.5" y="0.6" width="518.9" height="824.8" fill="none" stroke="#0c0c0c" stroke-width="1.35"/>
</svg>
</body>
</html>
